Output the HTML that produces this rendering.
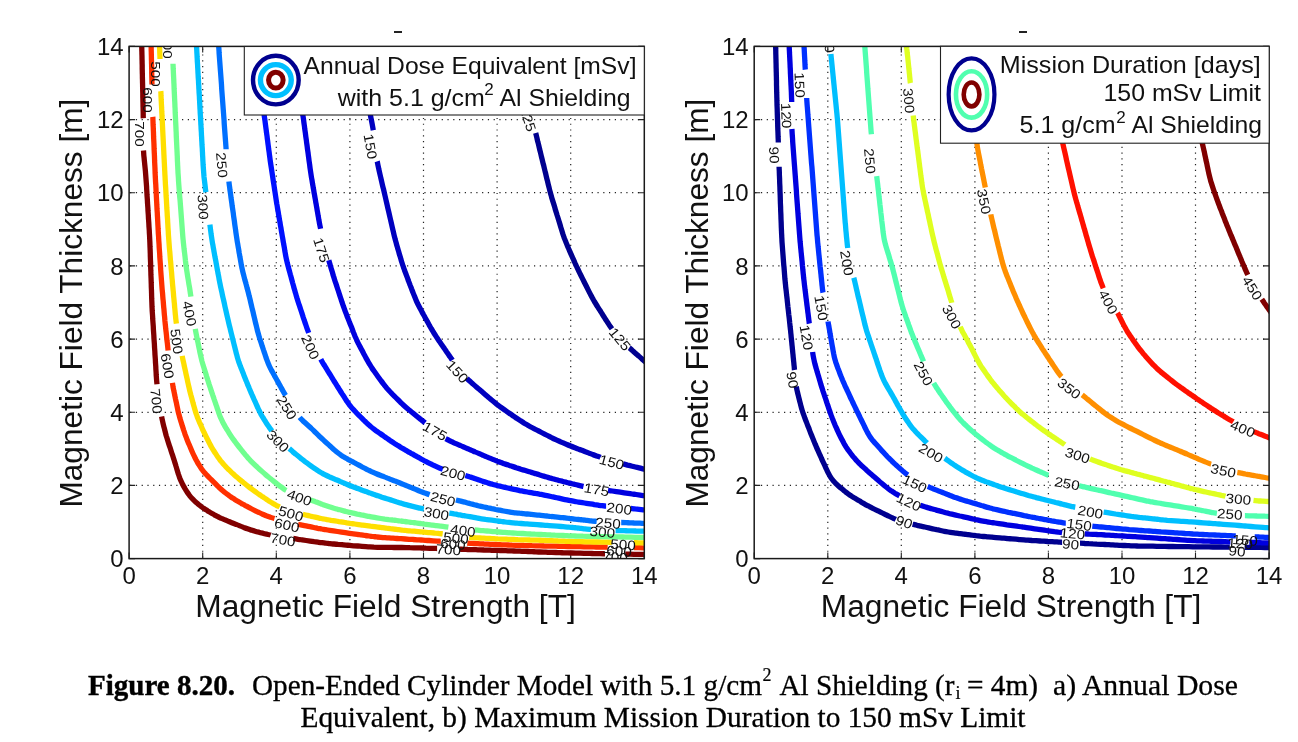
<!DOCTYPE html>
<html><head><meta charset="utf-8"><style>
html,body{margin:0;padding:0;background:#fff;width:1298px;height:742px;overflow:hidden}
svg{position:absolute;left:0;top:0;will-change:transform}
.grid{stroke:#222;stroke-width:1.2;stroke-dasharray:1.2 4.57}
.tick{stroke:#222;stroke-width:1.1;fill:none}
.axbox{fill:none;stroke:#1a1a1a;stroke-width:1.5}
.tl{font-family:"Liberation Sans",sans-serif;font-size:24px;fill:#111}
.al{font-family:"Liberation Sans",sans-serif;font-size:31px;fill:#111}
.cl{font-family:"Liberation Sans",sans-serif;font-size:13.6px;fill:#111;text-anchor:middle}
.lg{font-family:"Liberation Sans",sans-serif;font-size:24px;fill:#111}
.lgs{font-family:"Liberation Sans",sans-serif;font-size:17px;fill:#111}
.cap{font-family:"Liberation Serif",serif;font-size:29px;fill:#000;stroke:#000;stroke-width:0.3}
.capb{font-family:"Liberation Serif",serif;font-size:29px;font-weight:bold;fill:#000;stroke:#000;stroke-width:0.4}
.caps{font-family:"Liberation Serif",serif;font-size:18px;fill:#000;stroke:#000;stroke-width:0.2}
</style></head><body>
<svg width="1298" height="742" viewBox="0 0 1298 742">
<defs>
<clipPath id="cL"><rect x="129" y="46.4" width="515" height="512"/></clipPath>
<clipPath id="cR"><rect x="754" y="46.4" width="515" height="512"/></clipPath>
</defs>

<line x1="202.7" y1="557.6" x2="202.7" y2="47.4" class="grid"/>
<line x1="130.1" y1="485.4" x2="643.3" y2="485.4" class="grid"/>
<line x1="276.3" y1="557.6" x2="276.3" y2="47.4" class="grid"/>
<line x1="130.1" y1="412.3" x2="643.3" y2="412.3" class="grid"/>
<line x1="349.9" y1="557.6" x2="349.9" y2="47.4" class="grid"/>
<line x1="130.1" y1="339.1" x2="643.3" y2="339.1" class="grid"/>
<line x1="423.5" y1="557.6" x2="423.5" y2="47.4" class="grid"/>
<line x1="130.1" y1="265.9" x2="643.3" y2="265.9" class="grid"/>
<line x1="497.1" y1="557.6" x2="497.1" y2="47.4" class="grid"/>
<line x1="130.1" y1="192.7" x2="643.3" y2="192.7" class="grid"/>
<line x1="570.7" y1="557.6" x2="570.7" y2="47.4" class="grid"/>
<line x1="130.1" y1="119.6" x2="643.3" y2="119.6" class="grid"/>
<path d="M129.1 558.6v-6M129.1 46.4v6" class="tick"/>
<path d="M129.1 558.6h6M644.3 558.6h-6" class="tick"/>
<path d="M202.7 558.6v-6M202.7 46.4v6" class="tick"/>
<path d="M129.1 485.4h6M644.3 485.4h-6" class="tick"/>
<path d="M276.3 558.6v-6M276.3 46.4v6" class="tick"/>
<path d="M129.1 412.3h6M644.3 412.3h-6" class="tick"/>
<path d="M349.9 558.6v-6M349.9 46.4v6" class="tick"/>
<path d="M129.1 339.1h6M644.3 339.1h-6" class="tick"/>
<path d="M423.5 558.6v-6M423.5 46.4v6" class="tick"/>
<path d="M129.1 265.9h6M644.3 265.9h-6" class="tick"/>
<path d="M497.1 558.6v-6M497.1 46.4v6" class="tick"/>
<path d="M129.1 192.7h6M644.3 192.7h-6" class="tick"/>
<path d="M570.7 558.6v-6M570.7 46.4v6" class="tick"/>
<path d="M129.1 119.6h6M644.3 119.6h-6" class="tick"/>
<path d="M644.3 558.6v-6M644.3 46.4v6" class="tick"/>
<path d="M129.1 46.4h6M644.3 46.4h-6" class="tick"/>
<g clip-path="url(#cL)" fill="none" stroke-width="5.3" stroke-linejoin="round" stroke-linecap="butt">
<path d="M141.7 44.0 C141.7 44.8 141.8 47.5 141.8 49.0 C141.8 50.5 141.9 51.7 141.9 53.0 C141.9 54.3 142.0 55.7 142.0 57.0 C142.0 58.3 142.0 59.7 142.1 61.0 C142.1 62.3 142.1 63.7 142.2 65.0 C142.2 66.3 142.2 67.7 142.2 69.0 C142.3 70.4 142.3 71.7 142.3 73.0 C142.4 74.4 142.4 75.7 142.4 77.0 C142.4 78.4 142.5 79.7 142.5 81.0 C142.5 82.4 142.6 83.7 142.6 85.0 C142.6 86.4 142.6 87.7 142.7 89.0 C142.7 90.4 142.7 91.7 142.8 93.0 C142.8 94.4 142.8 95.7 142.8 97.0 C142.9 98.4 142.9 99.7 142.9 101.0 C143.0 102.4 143.0 103.7 143.0 105.0 C143.0 106.4 143.1 107.7 143.1 109.0 C143.1 110.4 143.2 111.5 143.2 113.0 C143.2 114.6 143.2 117.3 143.3 118.2" stroke="#800000"/>
<path d="M143.5 150.5 C143.6 151.3 143.7 153.6 143.8 155.1 C143.9 156.5 144.1 157.7 144.2 159.0 C144.3 160.4 144.5 161.7 144.6 163.0 C144.7 164.4 144.9 165.7 145.0 167.0 C145.1 168.3 145.3 169.7 145.4 171.0 C145.5 172.3 145.6 173.7 145.7 175.0 C145.8 176.3 145.9 177.6 146.0 179.0 C146.1 180.3 146.2 181.6 146.3 183.0 C146.4 184.3 146.5 185.6 146.6 187.0 C146.6 188.3 146.7 189.6 146.8 191.0 C146.9 192.3 147.0 193.6 147.0 195.0 C147.1 196.3 147.2 197.6 147.3 199.0 C147.4 200.3 147.5 201.6 147.5 202.9 C147.6 204.3 147.7 205.6 147.8 206.9 C147.9 208.3 148.0 209.6 148.0 210.9 C148.1 212.3 148.2 213.6 148.3 214.9 C148.4 216.3 148.4 217.6 148.5 218.9 C148.6 220.3 148.7 221.6 148.8 222.9 C148.9 224.3 148.9 225.6 149.0 226.9 C149.1 228.3 149.2 229.6 149.3 230.9 C149.3 232.3 149.4 233.6 149.5 234.9 C149.6 236.2 149.6 237.6 149.7 238.9 C149.8 240.2 149.8 241.6 149.9 242.9 C149.9 244.2 150.0 245.6 150.0 246.9 C150.1 248.2 150.1 249.6 150.2 250.9 C150.2 252.2 150.3 253.6 150.3 254.9 C150.3 256.3 150.4 257.6 150.4 258.9 C150.5 260.3 150.5 261.6 150.6 262.9 C150.6 264.3 150.6 265.6 150.7 266.9 C150.7 268.3 150.8 269.6 150.8 270.9 C150.9 272.3 150.9 273.6 150.9 274.9 C151.0 276.3 151.0 277.6 151.1 278.9 C151.1 280.3 151.2 281.6 151.2 282.9 C151.3 284.3 151.3 285.6 151.3 286.9 C151.4 288.3 151.4 289.6 151.5 290.9 C151.5 292.3 151.6 293.6 151.6 294.9 C151.6 296.3 151.7 297.6 151.7 298.9 C151.8 300.3 151.8 301.6 151.9 302.9 C151.9 304.3 152.0 305.6 152.0 306.9 C152.1 308.3 152.2 309.6 152.2 310.9 C152.3 312.3 152.4 313.6 152.5 314.9 C152.6 316.3 152.7 317.6 152.7 318.9 C152.8 320.3 152.9 321.6 153.0 322.9 C153.1 324.3 153.2 325.6 153.3 326.9 C153.3 328.2 153.4 329.6 153.5 330.9 C153.6 332.2 153.7 333.6 153.8 334.9 C153.9 336.2 153.9 337.6 154.0 338.9 C154.1 340.2 154.2 341.6 154.3 342.9 C154.4 344.2 154.5 345.6 154.5 346.9 C154.6 348.2 154.7 349.6 154.8 350.9 C154.9 352.2 154.9 353.6 155.0 354.9 C155.1 356.2 155.2 357.5 155.3 358.9 C155.4 360.2 155.4 361.5 155.5 362.9 C155.6 364.2 155.7 365.5 155.8 366.9 C155.8 368.2 155.9 369.5 156.0 370.9 C156.1 372.2 156.2 373.5 156.2 374.9 C156.3 376.2 156.4 377.3 156.5 378.9 C156.6 380.4 156.9 383.3 157.0 384.2" stroke="#800000"/>
<path d="M161.6 416.5 C161.7 417.1 162.1 419.1 162.4 420.4 C162.7 421.8 163.0 423.0 163.3 424.3 C163.6 425.6 163.9 426.9 164.3 428.2 C164.6 429.5 164.9 430.8 165.3 432.1 C165.6 433.4 165.9 434.7 166.3 436.0 C166.7 437.2 167.1 438.5 167.5 439.8 C167.9 441.1 168.3 442.3 168.7 443.6 C169.1 444.9 169.5 446.1 170.0 447.4 C170.4 448.7 170.8 449.9 171.2 451.2 C171.6 452.5 172.0 453.7 172.5 455.0 C172.9 456.3 173.3 457.6 173.7 458.8 C174.1 460.1 174.5 461.4 174.9 462.6 C175.3 463.9 175.7 465.2 176.1 466.5 C176.5 467.7 176.8 469.0 177.2 470.3 C177.6 471.6 178.0 472.8 178.4 474.1 C178.9 475.4 179.3 476.6 179.7 477.9 C180.2 479.1 180.7 480.4 181.3 481.6 C181.8 482.8 182.4 483.9 183.0 485.1 C183.7 486.3 184.3 487.4 185.0 488.6 C185.7 489.7 186.4 490.9 187.1 492.0 C187.8 493.1 188.6 494.2 189.4 495.3 C190.2 496.3 191.0 497.3 191.9 498.3 C192.8 499.3 193.7 500.2 194.7 501.1 C195.6 502.0 196.6 502.9 197.7 503.7 C198.7 504.6 199.7 505.4 200.8 506.2 C201.8 507.0 202.9 507.8 204.0 508.5 C205.1 509.3 206.3 510.0 207.4 510.7 C208.5 511.4 209.7 512.1 210.8 512.8 C212.0 513.5 213.1 514.1 214.3 514.8 C215.4 515.4 216.6 516.1 217.8 516.7 C219.0 517.3 220.2 517.8 221.4 518.4 C222.6 518.9 223.9 519.4 225.1 519.9 C226.3 520.5 227.6 521.0 228.8 521.5 C230.0 522.0 231.3 522.5 232.5 523.0 C233.7 523.5 235.0 524.0 236.2 524.4 C237.5 524.9 238.7 525.4 239.9 525.9 C241.2 526.4 242.4 526.9 243.6 527.4 C244.9 527.9 246.1 528.4 247.4 528.8 C248.6 529.3 249.9 529.7 251.2 530.1 C252.4 530.5 253.7 530.9 255.0 531.2 C256.3 531.6 257.6 531.9 258.9 532.2 C260.2 532.6 261.5 532.9 262.8 533.2 C264.1 533.6 265.3 533.9 266.6 534.2 C268.0 534.5 270.1 534.9 270.7 535.1" stroke="#800000"/>
<path d="M293.3 538.5 C294.1 538.6 296.8 539.0 298.2 539.3 C299.7 539.5 300.9 539.7 302.2 539.9 C303.5 540.1 304.8 540.3 306.2 540.5 C307.5 540.7 308.8 540.9 310.1 541.1 C311.4 541.3 312.8 541.5 314.1 541.7 C315.4 541.8 316.7 542.0 318.0 542.2 C319.4 542.4 320.7 542.6 322.0 542.7 C323.3 542.9 324.7 543.0 326.0 543.2 C327.3 543.3 328.6 543.5 330.0 543.6 C331.3 543.7 332.6 543.9 334.0 544.0 C335.3 544.1 336.6 544.2 337.9 544.4 C339.3 544.5 340.6 544.6 341.9 544.7 C343.3 544.9 344.6 545.0 345.9 545.1 C347.2 545.2 348.6 545.3 349.9 545.4 C351.2 545.6 352.6 545.7 353.9 545.8 C355.2 545.8 356.6 545.9 357.9 546.0 C359.2 546.1 360.6 546.2 361.9 546.3 C363.2 546.4 364.5 546.5 365.9 546.6 C367.2 546.7 368.5 546.8 369.9 546.8 C371.2 546.9 372.5 547.0 373.9 547.1 C375.2 547.1 376.5 547.2 377.9 547.3 C379.2 547.3 380.5 547.3 381.9 547.4 C383.2 547.4 384.5 547.4 385.9 547.4 C387.2 547.4 388.5 547.4 389.9 547.4 C391.2 547.4 392.5 547.5 393.9 547.5 C395.2 547.5 396.5 547.5 397.9 547.5 C399.2 547.5 400.5 547.5 401.9 547.5 C403.2 547.5 404.6 547.5 405.9 547.6 C407.2 547.6 408.6 547.6 409.9 547.7 C411.2 547.7 412.6 547.7 413.9 547.8 C415.2 547.8 416.6 547.9 417.9 547.9 C419.2 547.9 420.6 548.0 421.9 548.0 C423.2 548.1 424.6 548.1 425.9 548.2 C427.2 548.2 428.6 548.2 429.9 548.3 C431.2 548.3 432.7 548.4 433.9 548.4 C435.1 548.4 436.6 548.5 437.1 548.5" stroke="#800000"/>
<path d="M459.7 549.2 C460.4 549.2 462.5 549.3 463.9 549.3 C465.3 549.4 466.6 549.4 467.9 549.5 C469.2 549.5 470.6 549.6 471.9 549.6 C473.2 549.6 474.6 549.7 475.9 549.7 C477.2 549.8 478.6 549.8 479.9 549.9 C481.3 549.9 482.6 549.9 483.9 550.0 C485.3 550.0 486.6 550.1 487.9 550.1 C489.3 550.2 490.6 550.2 491.9 550.3 C493.3 550.3 494.6 550.3 495.9 550.4 C497.3 550.4 498.6 550.5 499.9 550.5 C501.3 550.6 502.6 550.6 503.9 550.6 C505.3 550.7 506.6 550.7 507.9 550.8 C509.3 550.8 510.6 550.9 511.9 550.9 C513.3 551.0 514.6 551.0 515.9 551.1 C517.3 551.1 518.6 551.2 519.9 551.2 C521.3 551.3 522.6 551.3 523.9 551.4 C525.3 551.4 526.6 551.5 527.9 551.5 C529.3 551.6 530.6 551.6 531.9 551.7 C533.3 551.7 534.6 551.8 535.9 551.8 C537.3 551.9 538.6 552.0 539.9 552.0 C541.3 552.1 542.6 552.1 543.9 552.1 C545.3 552.2 546.6 552.2 547.9 552.3 C549.3 552.3 550.6 552.4 551.9 552.4 C553.3 552.5 554.6 552.5 555.9 552.5 C557.3 552.6 558.6 552.6 559.9 552.7 C561.3 552.7 562.6 552.8 563.9 552.8 C565.3 552.8 566.6 552.9 567.9 552.9 C569.3 553.0 570.6 553.0 571.9 553.0 C573.3 553.1 574.6 553.1 575.9 553.1 C577.3 553.2 578.6 553.2 580.0 553.2 C581.3 553.3 582.6 553.3 584.0 553.3 C585.3 553.3 586.6 553.4 588.0 553.4 C589.3 553.4 590.6 553.5 592.0 553.5 C593.3 553.5 594.6 553.6 596.0 553.6 C597.3 553.6 598.5 553.6 600.0 553.7 C601.5 553.7 604.2 553.8 605.0 553.8" stroke="#800000"/>
<path d="M625.3 554.1 C626.1 554.1 628.5 554.2 630.0 554.2 C631.4 554.2 632.7 554.2 634.0 554.3 C635.3 554.3 636.7 554.3 638.0 554.3 C639.3 554.4 640.7 554.4 642.0 554.4 C643.3 554.4 645.3 554.5 646.0 554.5" stroke="#800000"/>
<path d="M151.1 44.0 C151.1 44.8 151.2 47.5 151.2 49.0 C151.2 50.5 151.3 51.7 151.3 53.0 C151.3 54.3 151.4 55.7 151.4 57.0 C151.4 58.3 151.4 59.7 151.5 61.0 C151.5 62.3 151.5 63.7 151.6 65.0 C151.6 66.3 151.6 67.7 151.7 69.0 C151.7 70.3 151.7 71.7 151.7 73.0 C151.8 74.3 151.8 75.7 151.8 77.0 C151.9 78.3 151.9 79.8 151.9 81.0 C152.0 82.3 152.0 83.9 152.0 84.5" stroke="#ff3000"/>
<path d="M152.8 116.8 C152.9 117.5 152.9 119.7 153.0 121.0 C153.0 122.4 153.1 123.7 153.1 125.0 C153.2 126.4 153.3 127.7 153.3 129.0 C153.4 130.4 153.4 131.7 153.5 133.0 C153.5 134.4 153.6 135.7 153.6 137.0 C153.7 138.3 153.7 139.7 153.8 141.0 C153.9 142.3 153.9 143.7 154.0 145.0 C154.0 146.3 154.1 147.7 154.1 149.0 C154.2 150.3 154.2 151.7 154.3 153.0 C154.4 154.3 154.4 155.7 154.5 157.0 C154.5 158.3 154.6 159.7 154.6 161.0 C154.7 162.3 154.7 163.7 154.8 165.0 C154.9 166.3 154.9 167.7 155.0 169.0 C155.0 170.3 155.1 171.7 155.1 173.0 C155.2 174.3 155.3 175.7 155.3 177.0 C155.4 178.3 155.5 179.7 155.5 181.0 C155.6 182.3 155.7 183.7 155.8 185.0 C155.8 186.3 155.9 187.7 156.0 189.0 C156.0 190.3 156.1 191.7 156.2 193.0 C156.3 194.3 156.3 195.7 156.4 197.0 C156.5 198.3 156.5 199.6 156.6 201.0 C156.7 202.3 156.8 203.6 156.8 205.0 C156.9 206.3 157.0 207.6 157.0 209.0 C157.1 210.3 157.2 211.6 157.3 213.0 C157.3 214.3 157.4 215.6 157.5 217.0 C157.6 218.3 157.6 219.6 157.7 221.0 C157.8 222.3 157.8 223.6 157.9 225.0 C158.0 226.3 158.1 227.6 158.1 229.0 C158.2 230.3 158.3 231.6 158.3 233.0 C158.4 234.3 158.5 235.6 158.6 236.9 C158.7 238.3 158.7 239.6 158.8 240.9 C158.9 242.3 159.0 243.6 159.1 244.9 C159.1 246.3 159.2 247.6 159.3 248.9 C159.4 250.3 159.5 251.6 159.6 252.9 C159.7 254.3 159.8 255.6 159.8 256.9 C159.9 258.3 160.0 259.6 160.1 260.9 C160.2 262.2 160.3 263.6 160.4 264.9 C160.5 266.2 160.6 267.6 160.6 268.9 C160.7 270.2 160.8 271.6 160.9 272.9 C161.0 274.2 161.1 275.6 161.2 276.9 C161.3 278.2 161.4 279.5 161.5 280.9 C161.6 282.2 161.7 283.5 161.8 284.9 C161.9 286.2 162.0 287.5 162.1 288.9 C162.2 290.2 162.4 291.5 162.5 292.8 C162.6 294.2 162.7 295.5 162.8 296.8 C162.9 298.2 163.0 299.5 163.2 300.8 C163.3 302.1 163.4 303.5 163.5 304.8 C163.6 306.1 163.7 307.5 163.9 308.8 C164.0 310.1 164.1 311.5 164.2 312.8 C164.3 314.1 164.4 315.4 164.6 316.8 C164.7 318.1 164.8 319.4 164.9 320.8 C165.1 322.1 165.2 323.4 165.3 324.7 C165.5 326.1 165.6 327.4 165.7 328.7 C165.9 330.0 166.0 331.4 166.2 332.7 C166.3 334.0 166.5 335.3 166.6 336.7 C166.7 338.0 166.9 339.3 167.0 340.7 C167.2 342.0 167.3 343.0 167.5 344.6 C167.7 346.3 168.0 349.5 168.1 350.5" stroke="#ff3000"/>
<path d="M172.4 382.9 C172.5 383.6 172.9 385.9 173.1 387.3 C173.4 388.6 173.7 389.9 173.9 391.2 C174.2 392.5 174.5 393.8 174.7 395.1 C175.0 396.4 175.3 397.7 175.5 399.0 C175.8 400.3 176.1 401.6 176.4 402.9 C176.6 404.3 176.9 405.6 177.2 406.9 C177.5 408.2 177.7 409.5 178.0 410.8 C178.3 412.1 178.6 413.4 179.0 414.7 C179.3 415.9 179.7 417.2 180.0 418.5 C180.4 419.8 180.8 421.1 181.2 422.3 C181.6 423.6 182.0 424.9 182.4 426.2 C182.8 427.4 183.2 428.7 183.6 430.0 C184.0 431.2 184.5 432.5 184.9 433.8 C185.3 435.0 185.8 436.3 186.3 437.5 C186.7 438.8 187.2 440.0 187.7 441.2 C188.2 442.5 188.7 443.7 189.3 444.9 C189.8 446.2 190.3 447.4 190.8 448.6 C191.3 449.8 191.9 451.1 192.4 452.3 C192.9 453.5 193.5 454.7 194.1 455.9 C194.7 457.1 195.3 458.3 195.9 459.5 C196.5 460.6 197.2 461.8 197.8 463.0 C198.5 464.1 199.2 465.3 199.9 466.4 C200.6 467.5 201.3 468.6 202.1 469.7 C202.9 470.7 203.7 471.8 204.6 472.8 C205.5 473.8 206.4 474.7 207.3 475.7 C208.2 476.6 209.2 477.6 210.1 478.5 C211.1 479.5 212.0 480.4 213.0 481.4 C213.9 482.3 214.8 483.2 215.8 484.2 C216.7 485.1 217.7 486.1 218.6 487.0 C219.6 487.9 220.6 488.8 221.6 489.7 C222.6 490.6 223.6 491.4 224.6 492.3 C225.6 493.1 226.7 493.9 227.8 494.7 C228.9 495.5 229.9 496.3 231.0 497.0 C232.1 497.8 233.3 498.5 234.4 499.2 C235.5 499.9 236.6 500.6 237.8 501.3 C238.9 502.0 240.1 502.6 241.3 503.3 C242.4 503.9 243.6 504.6 244.7 505.2 C245.9 505.9 247.1 506.5 248.3 507.2 C249.4 507.8 250.6 508.4 251.8 509.0 C253.0 509.6 254.2 510.2 255.4 510.8 C256.6 511.4 257.8 512.0 259.0 512.5 C260.2 513.1 261.4 513.7 262.6 514.2 C263.8 514.7 265.1 515.3 266.3 515.8 C267.5 516.2 268.7 516.7 270.1 517.1 C271.4 517.6 273.7 518.3 274.5 518.5" stroke="#ff3000"/>
<path d="M298.0 524.2 C298.7 524.4 300.7 524.8 302.1 525.1 C303.4 525.4 304.7 525.7 306.0 525.9 C307.3 526.2 308.6 526.5 309.9 526.7 C311.2 527.0 312.5 527.3 313.8 527.5 C315.1 527.8 316.4 528.0 317.7 528.3 C319.1 528.5 320.4 528.8 321.7 529.0 C323.0 529.2 324.3 529.5 325.6 529.7 C326.9 529.9 328.3 530.1 329.6 530.3 C330.9 530.5 332.2 530.7 333.5 530.9 C334.9 531.1 336.2 531.3 337.5 531.5 C338.8 531.7 340.1 531.9 341.5 532.1 C342.8 532.3 344.1 532.5 345.4 532.7 C346.7 532.9 348.0 533.1 349.4 533.3 C350.7 533.5 352.0 533.7 353.3 533.8 C354.7 534.0 356.0 534.2 357.3 534.4 C358.6 534.6 359.9 534.7 361.3 534.9 C362.6 535.1 363.9 535.3 365.2 535.5 C366.6 535.6 367.9 535.8 369.2 536.0 C370.5 536.2 371.8 536.3 373.2 536.5 C374.5 536.7 375.8 536.8 377.1 537.0 C378.5 537.1 379.8 537.2 381.1 537.3 C382.5 537.5 383.8 537.6 385.1 537.7 C386.4 537.8 387.8 537.8 389.1 537.9 C390.4 538.0 391.8 538.1 393.1 538.2 C394.4 538.3 395.8 538.4 397.1 538.5 C398.4 538.6 399.8 538.6 401.1 538.7 C402.4 538.8 403.7 538.9 405.1 539.0 C406.4 539.1 407.7 539.2 409.1 539.3 C410.4 539.3 411.7 539.4 413.1 539.5 C414.4 539.6 415.7 539.7 417.1 539.8 C418.4 539.9 419.7 539.9 421.1 540.0 C422.4 540.1 423.7 540.2 425.0 540.3 C426.4 540.4 427.7 540.5 429.0 540.5 C430.4 540.6 431.7 540.7 433.0 540.8 C434.4 540.9 435.7 541.0 437.0 541.1 C438.3 541.1 440.2 541.3 440.8 541.3" stroke="#ff3000"/>
<path d="M467.3 543.1 C468.1 543.2 470.5 543.3 472.0 543.4 C473.4 543.5 474.6 543.5 476.0 543.6 C477.3 543.7 478.6 543.7 480.0 543.8 C481.3 543.8 482.6 543.9 484.0 544.0 C485.3 544.0 486.6 544.1 488.0 544.1 C489.3 544.2 490.6 544.3 492.0 544.3 C493.3 544.4 494.6 544.5 496.0 544.5 C497.3 544.6 498.6 544.6 500.0 544.7 C501.3 544.8 502.6 544.8 504.0 544.9 C505.3 544.9 506.6 545.0 508.0 545.0 C509.3 545.1 510.6 545.1 512.0 545.2 C513.3 545.2 514.6 545.2 516.0 545.3 C517.3 545.3 518.6 545.3 520.0 545.4 C521.3 545.4 522.6 545.4 524.0 545.5 C525.3 545.5 526.6 545.5 528.0 545.6 C529.3 545.6 530.6 545.6 532.0 545.7 C533.3 545.7 534.6 545.7 536.0 545.8 C537.3 545.8 538.6 545.8 540.0 545.9 C541.3 545.9 542.6 545.9 544.0 546.0 C545.3 546.0 546.6 546.0 548.0 546.1 C549.3 546.1 550.6 546.1 552.0 546.1 C553.3 546.2 554.6 546.2 556.0 546.2 C557.3 546.2 558.6 546.3 560.0 546.3 C561.3 546.3 562.6 546.3 564.0 546.4 C565.3 546.4 566.6 546.4 568.0 546.5 C569.3 546.5 570.6 546.5 572.0 546.5 C573.3 546.6 574.6 546.6 576.0 546.6 C577.3 546.6 578.6 546.7 580.0 546.7 C581.3 546.7 582.6 546.7 584.0 546.8 C585.3 546.8 586.6 546.8 588.0 546.8 C589.3 546.9 590.6 546.9 592.0 546.9 C593.3 546.9 594.6 547.0 596.0 547.0 C597.3 547.0 598.6 547.0 600.0 547.1 C601.3 547.1 602.7 547.1 604.0 547.1 C605.3 547.2 607.1 547.2 607.7 547.2" stroke="#ff3000"/>
<path d="M634.0 547.6 C634.8 547.6 637.5 547.7 639.0 547.7 C640.5 547.8 641.8 547.8 643.0 547.8 C644.2 547.9 645.5 547.9 646.0 547.9" stroke="#ff3000"/>
<path d="M159.5 44.0 C159.5 44.8 159.6 47.5 159.7 49.0 C159.7 50.5 159.7 51.4 159.8 53.0 C159.9 54.7 160.0 57.9 160.0 58.9" stroke="#ffdf00"/>
<path d="M160.8 91.2 C160.9 92.0 161.0 94.5 161.0 96.0 C161.1 97.5 161.2 98.7 161.2 100.0 C161.3 101.3 161.4 102.7 161.4 104.0 C161.5 105.3 161.6 106.7 161.6 108.0 C161.7 109.3 161.8 110.7 161.8 112.0 C161.9 113.3 162.0 114.7 162.0 116.0 C162.1 117.3 162.1 118.7 162.2 120.0 C162.3 121.3 162.3 122.7 162.4 124.0 C162.5 125.3 162.5 126.7 162.6 128.0 C162.7 129.3 162.7 130.7 162.8 132.0 C162.9 133.3 162.9 134.7 163.0 136.0 C163.1 137.3 163.1 138.7 163.2 140.0 C163.3 141.3 163.3 142.7 163.4 144.0 C163.5 145.3 163.5 146.7 163.6 148.0 C163.7 149.3 163.7 150.7 163.8 152.0 C163.8 153.3 163.9 154.7 164.0 156.0 C164.0 157.3 164.1 158.7 164.2 160.0 C164.2 161.3 164.3 162.7 164.4 164.0 C164.4 165.3 164.5 166.7 164.6 168.0 C164.6 169.3 164.7 170.7 164.8 172.0 C164.8 173.3 164.9 174.7 165.0 176.0 C165.1 177.3 165.1 178.6 165.2 180.0 C165.3 181.3 165.4 182.6 165.4 184.0 C165.5 185.3 165.6 186.6 165.7 188.0 C165.8 189.3 165.8 190.6 165.9 192.0 C166.0 193.3 166.1 194.6 166.1 196.0 C166.2 197.3 166.3 198.6 166.4 200.0 C166.5 201.3 166.5 202.6 166.6 204.0 C166.7 205.3 166.8 206.6 166.8 208.0 C166.9 209.3 167.0 210.6 167.1 212.0 C167.2 213.3 167.2 214.6 167.3 215.9 C167.4 217.3 167.5 218.6 167.6 219.9 C167.6 221.3 167.7 222.6 167.8 223.9 C167.9 225.3 167.9 226.6 168.0 227.9 C168.1 229.3 168.2 230.6 168.3 231.9 C168.3 233.3 168.4 234.6 168.5 235.9 C168.6 237.3 168.7 238.6 168.8 239.9 C168.9 241.3 169.0 242.6 169.1 243.9 C169.2 245.2 169.3 246.6 169.4 247.9 C169.5 249.2 169.6 250.6 169.8 251.9 C169.9 253.2 170.0 254.6 170.1 255.9 C170.2 257.2 170.3 258.5 170.4 259.9 C170.6 261.2 170.7 262.5 170.8 263.9 C170.9 265.2 171.0 266.5 171.1 267.8 C171.2 269.2 171.4 270.5 171.5 271.8 C171.6 273.2 171.7 274.5 171.8 275.8 C171.9 277.2 172.0 278.5 172.2 279.8 C172.3 281.1 172.4 282.5 172.5 283.8 C172.6 285.1 172.8 286.5 172.9 287.8 C173.0 289.1 173.1 290.4 173.3 291.8 C173.4 293.1 173.5 294.4 173.6 295.8 C173.7 297.1 173.9 298.4 174.0 299.7 C174.1 301.1 174.2 302.4 174.4 303.7 C174.5 305.1 174.6 306.4 174.7 307.7 C174.9 309.0 175.0 310.4 175.1 311.7 C175.2 313.0 175.3 314.4 175.5 315.7 C175.6 317.0 175.7 318.4 175.9 319.7 C176.0 321.0 176.3 322.9 176.4 323.6" stroke="#ffdf00"/>
<path d="M182.2 355.9 C182.3 356.6 182.7 358.7 183.0 360.1 C183.3 361.4 183.6 362.7 183.9 364.0 C184.1 365.3 184.4 366.6 184.7 367.9 C185.0 369.2 185.3 370.5 185.6 371.8 C185.8 373.1 186.1 374.4 186.4 375.7 C186.7 377.0 187.0 378.3 187.3 379.6 C187.5 380.9 187.8 382.2 188.1 383.5 C188.4 384.8 188.7 386.1 189.0 387.4 C189.3 388.7 189.6 390.0 189.9 391.3 C190.2 392.6 190.6 393.9 190.9 395.2 C191.3 396.5 191.6 397.8 192.0 399.1 C192.3 400.4 192.7 401.6 193.0 402.9 C193.4 404.2 193.7 405.5 194.1 406.8 C194.5 408.1 194.8 409.4 195.2 410.6 C195.6 411.9 196.0 413.2 196.4 414.4 C196.9 415.7 197.3 416.9 197.8 418.2 C198.3 419.4 198.8 420.6 199.3 421.9 C199.8 423.1 200.4 424.3 200.9 425.5 C201.5 426.8 202.0 428.0 202.5 429.2 C203.1 430.4 203.7 431.6 204.2 432.8 C204.8 434.0 205.4 435.2 206.0 436.4 C206.6 437.6 207.2 438.8 207.8 440.0 C208.4 441.2 209.0 442.4 209.6 443.6 C210.2 444.7 210.9 445.9 211.5 447.1 C212.2 448.2 212.9 449.4 213.6 450.5 C214.3 451.6 215.0 452.7 215.8 453.9 C216.5 455.0 217.2 456.1 218.0 457.2 C218.8 458.3 219.5 459.3 220.3 460.4 C221.2 461.4 222.0 462.5 222.9 463.5 C223.7 464.5 224.7 465.4 225.6 466.4 C226.5 467.4 227.4 468.3 228.4 469.3 C229.3 470.2 230.3 471.1 231.2 472.1 C232.2 473.0 233.2 473.9 234.2 474.8 C235.1 475.7 236.1 476.6 237.2 477.4 C238.2 478.3 239.2 479.1 240.2 480.0 C241.3 480.8 242.3 481.7 243.3 482.5 C244.4 483.4 245.4 484.2 246.4 485.0 C247.5 485.9 248.5 486.7 249.6 487.5 C250.7 488.3 251.7 489.1 252.8 489.9 C253.9 490.7 255.0 491.5 256.1 492.2 C257.1 493.0 258.2 493.8 259.3 494.5 C260.4 495.3 261.5 496.0 262.6 496.8 C263.7 497.5 264.8 498.3 266.0 499.0 C267.1 499.7 268.2 500.5 269.3 501.2 C270.5 501.9 271.6 502.6 272.7 503.3 C273.9 503.9 275.0 504.6 276.2 505.3 C277.4 505.9 279.1 506.7 279.7 507.0" stroke="#ffdf00"/>
<path d="M302.8 514.3 C303.6 514.5 306.0 515.1 307.4 515.4 C308.9 515.8 310.0 516.0 311.3 516.3 C312.6 516.6 313.9 516.9 315.2 517.2 C316.5 517.5 317.8 517.8 319.2 518.1 C320.5 518.4 321.8 518.6 323.1 518.9 C324.4 519.1 325.7 519.3 327.0 519.6 C328.3 519.8 329.6 520.0 331.0 520.3 C332.3 520.5 333.6 520.7 334.9 520.9 C336.2 521.1 337.5 521.3 338.9 521.6 C340.2 521.8 341.5 522.0 342.8 522.2 C344.1 522.4 345.4 522.6 346.8 522.9 C348.1 523.1 349.4 523.3 350.7 523.5 C352.0 523.7 353.4 523.8 354.7 524.0 C356.0 524.2 357.3 524.4 358.6 524.6 C360.0 524.8 361.3 524.9 362.6 525.1 C363.9 525.3 365.3 525.5 366.6 525.6 C367.9 525.8 369.2 526.0 370.5 526.2 C371.9 526.3 373.2 526.5 374.5 526.7 C375.8 526.9 377.2 527.0 378.5 527.2 C379.8 527.4 381.1 527.5 382.5 527.7 C383.8 527.9 385.1 528.0 386.4 528.2 C387.8 528.3 389.1 528.5 390.4 528.7 C391.7 528.8 393.1 529.0 394.4 529.1 C395.7 529.3 397.0 529.4 398.4 529.6 C399.7 529.8 401.0 529.9 402.3 530.1 C403.7 530.2 405.0 530.3 406.3 530.5 C407.6 530.6 409.0 530.7 410.3 530.9 C411.6 531.0 413.0 531.1 414.3 531.2 C415.6 531.4 416.9 531.5 418.3 531.6 C419.6 531.7 420.9 531.8 422.3 532.0 C423.6 532.1 424.9 532.2 426.2 532.3 C427.6 532.4 428.9 532.6 430.2 532.7 C431.6 532.8 432.9 532.9 434.2 533.0 C435.5 533.2 436.8 533.3 438.2 533.4 C439.6 533.6 441.9 533.8 442.7 533.9" stroke="#ffdf00"/>
<path d="M469.2 537.3 C470.0 537.4 472.5 537.6 474.0 537.7 C475.4 537.8 476.6 537.8 478.0 537.9 C479.3 538.0 480.6 538.0 482.0 538.1 C483.3 538.2 484.6 538.2 486.0 538.3 C487.3 538.4 488.6 538.4 489.9 538.5 C491.3 538.6 492.6 538.6 493.9 538.7 C495.3 538.8 496.6 538.8 497.9 538.9 C499.3 538.9 500.6 539.0 501.9 539.1 C503.3 539.1 504.6 539.2 505.9 539.2 C507.3 539.3 508.6 539.4 509.9 539.4 C511.3 539.5 512.6 539.5 513.9 539.5 C515.3 539.6 516.6 539.6 517.9 539.7 C519.3 539.7 520.6 539.7 521.9 539.8 C523.3 539.8 524.6 539.8 525.9 539.9 C527.3 539.9 528.6 539.9 530.0 540.0 C531.3 540.0 532.6 540.1 534.0 540.1 C535.3 540.1 536.6 540.2 538.0 540.2 C539.3 540.2 540.6 540.3 542.0 540.3 C543.3 540.4 544.6 540.4 546.0 540.5 C547.3 540.5 548.6 540.6 550.0 540.6 C551.3 540.7 552.6 540.7 554.0 540.8 C555.3 540.8 556.6 540.9 558.0 541.0 C559.3 541.0 560.6 541.1 562.0 541.1 C563.3 541.2 564.6 541.2 566.0 541.3 C567.3 541.3 568.6 541.4 570.0 541.4 C571.3 541.5 572.6 541.5 574.0 541.6 C575.3 541.6 576.6 541.6 578.0 541.6 C579.3 541.7 580.6 541.7 582.0 541.7 C583.3 541.8 584.6 541.8 586.0 541.8 C587.3 541.8 588.6 541.9 590.0 541.9 C591.3 541.9 592.6 541.9 594.0 542.0 C595.3 542.0 596.6 542.0 598.0 542.0 C599.3 542.1 600.6 542.1 602.0 542.1 C603.3 542.1 604.3 542.2 606.0 542.2 C607.6 542.2 610.8 542.3 611.8 542.3" stroke="#ffdf00"/>
<path d="M634.0 542.7 C634.8 542.7 637.5 542.8 639.0 542.8 C640.5 542.9 641.8 542.9 643.0 542.9 C644.2 543.0 645.5 543.0 646.0 543.0" stroke="#ffdf00"/>
<path d="M173.0 63.7 C173.0 64.5 173.2 67.2 173.2 68.7 C173.3 70.2 173.4 71.4 173.4 72.7 C173.5 74.0 173.5 75.4 173.6 76.7 C173.7 78.0 173.7 79.4 173.8 80.7 C173.8 82.0 173.9 83.4 174.0 84.7 C174.0 86.0 174.1 87.4 174.1 88.7 C174.2 90.0 174.3 91.3 174.3 92.7 C174.4 94.0 174.5 95.3 174.5 96.7 C174.6 98.0 174.6 99.3 174.7 100.7 C174.8 102.0 174.8 103.3 174.9 104.7 C174.9 106.0 175.0 107.3 175.1 108.7 C175.1 110.0 175.2 111.3 175.2 112.7 C175.3 114.0 175.4 115.3 175.4 116.7 C175.5 118.0 175.6 119.3 175.6 120.7 C175.7 122.0 175.7 123.3 175.8 124.7 C175.9 126.0 175.9 127.3 176.0 128.7 C176.0 130.0 176.1 131.3 176.2 132.7 C176.2 134.0 176.3 135.3 176.3 136.7 C176.4 138.0 176.5 139.3 176.5 140.7 C176.6 142.0 176.7 143.3 176.7 144.6 C176.8 146.0 176.8 147.3 176.9 148.6 C177.0 150.0 177.0 151.3 177.1 152.6 C177.1 154.0 177.2 155.3 177.3 156.6 C177.3 158.0 177.4 159.3 177.4 160.6 C177.5 162.0 177.6 163.3 177.6 164.6 C177.7 166.0 177.8 167.3 177.8 168.6 C177.9 170.0 178.0 171.3 178.0 172.6 C178.1 174.0 178.2 175.3 178.3 176.6 C178.4 178.0 178.5 179.3 178.5 180.6 C178.6 181.9 178.7 183.3 178.8 184.6 C178.9 185.9 179.0 187.3 179.1 188.6 C179.2 189.9 179.3 191.3 179.4 192.6 C179.5 193.9 179.6 195.2 179.7 196.6 C179.8 197.9 180.0 199.2 180.1 200.6 C180.2 201.9 180.3 203.2 180.4 204.6 C180.5 205.9 180.6 207.2 180.7 208.5 C180.8 209.9 180.9 211.2 181.0 212.5 C181.1 213.9 181.2 215.2 181.3 216.5 C181.4 217.9 181.5 219.2 181.6 220.5 C181.7 221.8 181.8 223.2 181.9 224.5 C182.0 225.8 182.1 227.2 182.2 228.5 C182.3 229.8 182.4 231.2 182.5 232.5 C182.6 233.8 182.7 235.1 182.8 236.5 C182.9 237.8 183.0 239.1 183.2 240.5 C183.3 241.8 183.4 243.1 183.6 244.4 C183.7 245.8 183.9 247.1 184.0 248.4 C184.2 249.7 184.3 251.1 184.5 252.4 C184.7 253.7 184.8 255.0 185.0 256.4 C185.1 257.7 185.3 259.0 185.4 260.3 C185.6 261.7 185.7 263.0 185.9 264.3 C186.1 265.6 186.2 267.0 186.4 268.3 C186.6 269.6 186.8 270.9 187.0 272.2 C187.2 273.6 187.4 274.9 187.6 276.2 C187.8 277.5 188.0 278.8 188.3 280.1 C188.5 281.5 188.7 282.8 188.9 284.1 C189.1 285.4 189.4 286.7 189.6 288.0 C189.8 289.4 190.0 290.6 190.2 292.0 C190.4 293.4 190.8 295.8 190.9 296.6" stroke="#70ff8f"/>
<path d="M195.3 328.9 C195.4 329.7 195.8 332.1 196.1 333.6 C196.4 335.0 196.6 336.2 196.9 337.5 C197.1 338.8 197.4 340.1 197.7 341.4 C198.0 342.7 198.2 344.0 198.5 345.3 C198.8 346.6 199.0 347.9 199.3 349.3 C199.6 350.6 199.8 351.9 200.1 353.2 C200.4 354.5 200.7 355.8 201.0 357.1 C201.3 358.4 201.6 359.7 201.9 361.0 C202.3 362.2 202.6 363.5 203.0 364.8 C203.4 366.1 203.8 367.4 204.2 368.6 C204.6 369.9 205.0 371.2 205.4 372.4 C205.8 373.7 206.2 375.0 206.6 376.3 C207.0 377.5 207.4 378.8 207.8 380.1 C208.2 381.3 208.6 382.6 209.0 383.9 C209.5 385.1 209.9 386.4 210.3 387.7 C210.7 389.0 211.1 390.2 211.5 391.5 C212.0 392.8 212.4 394.0 212.8 395.3 C213.2 396.5 213.7 397.8 214.1 399.1 C214.5 400.3 214.9 401.6 215.4 402.9 C215.8 404.1 216.2 405.4 216.7 406.6 C217.1 407.9 217.5 409.2 218.0 410.4 C218.4 411.7 218.8 413.0 219.3 414.2 C219.7 415.5 220.2 416.7 220.7 417.9 C221.3 419.1 221.8 420.3 222.4 421.5 C223.0 422.7 223.6 423.9 224.3 425.0 C224.9 426.2 225.6 427.3 226.3 428.5 C227.0 429.6 227.7 430.8 228.4 431.9 C229.1 433.0 229.8 434.2 230.5 435.3 C231.3 436.4 232.0 437.5 232.8 438.6 C233.6 439.7 234.4 440.7 235.1 441.8 C235.9 442.9 236.7 443.9 237.5 445.0 C238.4 446.1 239.2 447.1 240.0 448.2 C240.8 449.2 241.6 450.3 242.5 451.3 C243.3 452.3 244.2 453.4 245.0 454.4 C245.9 455.4 246.7 456.5 247.6 457.5 C248.5 458.5 249.4 459.4 250.3 460.4 C251.2 461.4 252.1 462.3 253.1 463.2 C254.0 464.2 255.0 465.1 256.0 466.0 C257.0 466.9 257.9 467.8 258.9 468.7 C259.9 469.6 260.9 470.5 261.9 471.4 C262.9 472.3 263.9 473.2 264.9 474.0 C265.9 474.9 266.9 475.8 268.0 476.6 C269.0 477.5 270.0 478.3 271.1 479.1 C272.1 480.0 273.2 480.8 274.2 481.6 C275.2 482.4 276.3 483.3 277.3 484.1 C278.4 484.9 279.4 485.8 280.5 486.6 C281.6 487.3 282.8 488.2 283.7 488.9 C284.7 489.5 285.9 490.2 286.3 490.4" stroke="#70ff8f"/>
<path d="M310.5 500.0 C311.3 500.3 313.7 501.1 315.1 501.6 C316.4 502.1 317.6 502.6 318.8 503.0 C320.1 503.5 321.3 503.9 322.6 504.4 C323.8 504.8 325.1 505.3 326.4 505.7 C327.6 506.1 328.9 506.6 330.2 507.0 C331.4 507.4 332.7 507.8 334.0 508.2 C335.2 508.5 336.5 508.9 337.8 509.3 C339.1 509.6 340.4 510.0 341.7 510.3 C343.0 510.7 344.2 511.0 345.5 511.4 C346.8 511.7 348.1 512.0 349.4 512.3 C350.7 512.7 352.0 512.9 353.3 513.2 C354.6 513.5 355.9 513.8 357.2 514.1 C358.5 514.3 359.8 514.6 361.1 514.9 C362.5 515.1 363.8 515.4 365.1 515.7 C366.4 515.9 367.7 516.2 369.0 516.4 C370.3 516.7 371.6 517.0 372.9 517.2 C374.2 517.5 375.5 517.7 376.9 517.9 C378.2 518.1 379.5 518.3 380.8 518.5 C382.1 518.7 383.4 518.9 384.8 519.1 C386.1 519.2 387.4 519.4 388.7 519.6 C390.1 519.7 391.4 519.9 392.7 520.0 C394.0 520.2 395.4 520.3 396.7 520.5 C398.0 520.7 399.3 520.8 400.7 521.0 C402.0 521.1 403.3 521.3 404.6 521.5 C406.0 521.6 407.3 521.8 408.6 522.0 C409.9 522.2 411.2 522.3 412.6 522.5 C413.9 522.7 415.2 522.8 416.5 523.0 C417.9 523.2 419.2 523.4 420.5 523.5 C421.8 523.7 423.1 523.9 424.5 524.1 C425.8 524.2 427.1 524.4 428.4 524.6 C429.8 524.8 431.1 524.9 432.4 525.1 C433.7 525.3 435.1 525.4 436.4 525.6 C437.7 525.8 439.0 526.0 440.3 526.1 C441.7 526.3 443.0 526.5 444.3 526.6 C445.7 526.8 447.7 527.1 448.4 527.2" stroke="#70ff8f"/>
<path d="M474.8 530.0 C475.5 530.0 477.7 530.2 479.1 530.3 C480.5 530.5 481.8 530.6 483.1 530.7 C484.4 530.8 485.8 530.9 487.1 531.0 C488.4 531.1 489.8 531.2 491.1 531.3 C492.4 531.5 493.7 531.6 495.1 531.7 C496.4 531.8 497.7 531.9 499.1 532.0 C500.4 532.1 501.7 532.2 503.1 532.3 C504.4 532.4 505.7 532.5 507.0 532.6 C508.4 532.7 509.7 532.8 511.0 532.9 C512.4 533.0 513.7 533.0 515.0 533.1 C516.4 533.2 517.7 533.3 519.0 533.3 C520.4 533.4 521.7 533.5 523.0 533.5 C524.4 533.6 525.7 533.7 527.0 533.8 C528.4 533.8 529.7 533.9 531.0 534.0 C532.3 534.0 533.7 534.1 535.0 534.2 C536.3 534.2 537.7 534.3 539.0 534.4 C540.3 534.5 541.7 534.5 543.0 534.6 C544.3 534.7 545.7 534.7 547.0 534.8 C548.3 534.9 549.7 534.9 551.0 535.0 C552.3 535.0 553.7 535.1 555.0 535.2 C556.3 535.2 557.7 535.3 559.0 535.4 C560.3 535.4 561.7 535.5 563.0 535.5 C564.3 535.6 565.7 535.7 567.0 535.7 C568.3 535.8 569.7 535.8 571.0 535.9 C572.3 535.9 573.7 536.0 575.0 536.0 C576.3 536.0 577.7 536.1 579.0 536.1 C580.3 536.1 581.7 536.1 583.0 536.2 C584.3 536.2 585.7 536.2 587.0 536.3 C588.3 536.3 589.7 536.3 591.0 536.3 C592.3 536.4 593.7 536.4 595.0 536.4 C596.3 536.5 597.7 536.5 599.0 536.5 C600.3 536.5 601.7 536.6 603.0 536.6 C604.3 536.6 605.7 536.6 607.0 536.7 C608.3 536.7 609.7 536.7 611.0 536.8 C612.3 536.8 613.7 536.8 615.0 536.8 C616.3 536.9 617.7 536.9 619.0 536.9 C620.3 537.0 621.7 537.0 623.0 537.0 C624.3 537.0 625.7 537.1 627.0 537.1 C628.3 537.1 629.7 537.2 631.0 537.2 C632.3 537.2 633.7 537.2 635.0 537.3 C636.3 537.3 637.7 537.3 639.0 537.4 C640.3 537.4 641.8 537.4 643.0 537.4 C644.2 537.5 645.5 537.5 646.0 537.5" stroke="#70ff8f"/>
<path d="M196.4 44.0 C196.4 44.8 196.6 47.5 196.7 49.0 C196.8 50.5 196.8 51.7 196.9 53.0 C197.0 54.3 197.1 55.7 197.1 57.0 C197.2 58.3 197.3 59.6 197.3 61.0 C197.4 62.3 197.5 63.6 197.6 65.0 C197.6 66.3 197.7 67.6 197.8 69.0 C197.9 70.3 197.9 71.6 198.0 73.0 C198.1 74.3 198.2 75.6 198.2 77.0 C198.3 78.3 198.4 79.6 198.5 81.0 C198.5 82.3 198.6 83.6 198.7 84.9 C198.8 86.3 198.8 87.6 198.9 88.9 C199.0 90.3 199.1 91.6 199.1 92.9 C199.2 94.3 199.3 95.6 199.4 96.9 C199.4 98.3 199.5 99.6 199.6 100.9 C199.7 102.3 199.7 103.6 199.8 104.9 C199.9 106.3 199.9 107.6 200.0 108.9 C200.1 110.2 200.2 111.6 200.2 112.9 C200.3 114.2 200.4 115.6 200.5 116.9 C200.5 118.2 200.6 119.6 200.7 120.9 C200.8 122.2 200.8 123.6 200.9 124.9 C201.0 126.2 201.1 127.6 201.1 128.9 C201.2 130.2 201.3 131.6 201.4 132.9 C201.4 134.2 201.5 135.5 201.6 136.9 C201.7 138.2 201.7 139.5 201.8 140.9 C201.9 142.2 202.0 143.5 202.0 144.9 C202.1 146.2 202.2 147.5 202.3 148.9 C202.3 150.2 202.4 151.5 202.5 152.9 C202.5 154.2 202.6 155.5 202.7 156.9 C202.8 158.2 202.8 159.5 202.9 160.8 C203.0 162.2 203.1 163.5 203.1 164.8 C203.2 166.2 203.3 167.5 203.4 168.8 C203.5 170.2 203.6 171.5 203.7 172.8 C203.8 174.2 203.9 175.5 204.0 176.8 C204.2 178.1 204.3 179.5 204.5 180.8 C204.6 182.1 204.8 183.4 205.0 184.8 C205.1 186.1 205.3 187.5 205.4 188.7 C205.6 190.0 205.8 191.7 205.9 192.3" stroke="#00bfff"/>
<path d="M209.9 224.6 C210.0 225.4 210.3 228.0 210.5 229.4 C210.7 230.9 210.9 232.1 211.0 233.4 C211.2 234.7 211.4 236.0 211.6 237.4 C211.8 238.7 212.0 240.0 212.2 241.3 C212.4 242.6 212.6 243.9 212.9 245.2 C213.1 246.6 213.3 247.9 213.6 249.2 C213.8 250.5 214.1 251.8 214.3 253.1 C214.5 254.4 214.8 255.7 215.0 257.1 C215.3 258.4 215.5 259.7 215.8 261.0 C216.0 262.3 216.2 263.6 216.5 264.9 C216.7 266.2 217.0 267.5 217.2 268.9 C217.4 270.2 217.7 271.5 217.9 272.8 C218.2 274.1 218.4 275.4 218.7 276.7 C218.9 278.0 219.1 279.4 219.4 280.7 C219.6 282.0 219.9 283.3 220.2 284.6 C220.4 285.9 220.7 287.2 221.0 288.5 C221.3 289.8 221.6 291.1 221.9 292.4 C222.1 293.7 222.4 295.0 222.7 296.3 C223.0 297.6 223.3 298.9 223.6 300.2 C223.9 301.5 224.2 302.8 224.5 304.1 C224.7 305.4 225.0 306.7 225.3 308.0 C225.6 309.3 225.9 310.6 226.2 311.9 C226.5 313.2 226.8 314.5 227.1 315.8 C227.4 317.1 227.7 318.4 228.0 319.7 C228.3 321.0 228.6 322.3 228.9 323.6 C229.2 324.9 229.5 326.2 229.9 327.5 C230.2 328.8 230.5 330.1 230.8 331.4 C231.1 332.7 231.5 334.0 231.8 335.3 C232.1 336.6 232.4 337.9 232.8 339.2 C233.1 340.5 233.4 341.7 233.7 343.0 C234.0 344.3 234.4 345.6 234.7 346.9 C235.0 348.2 235.3 349.5 235.7 350.8 C236.0 352.1 236.3 353.4 236.7 354.7 C237.0 356.0 237.3 357.3 237.7 358.5 C238.1 359.8 238.5 361.1 238.9 362.3 C239.4 363.6 239.8 364.8 240.3 366.1 C240.8 367.3 241.3 368.6 241.8 369.8 C242.3 371.0 242.8 372.3 243.3 373.5 C243.7 374.8 244.2 376.0 244.7 377.2 C245.2 378.5 245.7 379.7 246.2 380.9 C246.7 382.2 247.2 383.4 247.7 384.7 C248.3 385.9 248.8 387.1 249.3 388.4 C249.8 389.6 250.3 390.8 250.8 392.0 C251.3 393.3 251.9 394.5 252.4 395.7 C253.0 396.9 253.5 398.1 254.0 399.4 C254.6 400.6 255.1 401.8 255.7 403.0 C256.2 404.2 256.8 405.5 257.3 406.7 C257.9 407.9 258.4 409.1 259.0 410.3 C259.6 411.5 260.2 412.7 260.8 413.9 C261.4 415.0 262.1 416.2 262.8 417.3 C263.4 418.5 264.1 419.6 264.9 420.7 C265.6 421.9 266.3 423.0 267.0 424.1 C267.8 425.2 268.4 426.2 269.3 427.4 C270.1 428.5 271.5 430.3 271.9 430.9" stroke="#00bfff"/>
<path d="M289.2 448.6 C289.8 449.1 291.7 450.8 292.8 451.7 C293.9 452.7 294.9 453.4 295.9 454.3 C296.9 455.1 298.0 456.0 299.0 456.8 C300.0 457.7 301.1 458.5 302.1 459.3 C303.2 460.2 304.2 461.0 305.3 461.8 C306.4 462.6 307.4 463.3 308.5 464.1 C309.6 464.9 310.7 465.7 311.8 466.5 C312.9 467.2 313.9 468.0 315.0 468.7 C316.1 469.5 317.2 470.3 318.4 471.0 C319.5 471.7 320.6 472.4 321.8 473.0 C322.9 473.7 324.1 474.3 325.3 474.9 C326.5 475.5 327.7 476.0 328.9 476.6 C330.1 477.1 331.4 477.6 332.6 478.2 C333.8 478.7 335.0 479.2 336.2 479.8 C337.5 480.3 338.7 480.8 339.9 481.4 C341.1 481.9 342.4 482.4 343.6 482.9 C344.8 483.5 346.0 484.0 347.3 484.5 C348.5 485.0 349.7 485.5 351.0 486.0 C352.2 486.5 353.5 487.0 354.7 487.4 C356.0 487.9 357.2 488.4 358.5 488.8 C359.7 489.3 361.0 489.7 362.2 490.2 C363.5 490.6 364.7 491.1 366.0 491.6 C367.2 492.0 368.5 492.5 369.7 492.9 C371.0 493.4 372.3 493.8 373.5 494.3 C374.8 494.7 376.0 495.2 377.3 495.6 C378.5 496.0 379.8 496.5 381.1 496.9 C382.3 497.3 383.6 497.7 384.9 498.1 C386.2 498.5 387.4 498.9 388.7 499.3 C390.0 499.7 391.2 500.1 392.5 500.5 C393.8 500.9 395.1 501.3 396.3 501.7 C397.6 502.1 398.9 502.5 400.1 502.9 C401.4 503.3 402.7 503.7 404.0 504.1 C405.3 504.4 406.5 504.8 407.8 505.1 C409.1 505.5 410.4 505.8 411.7 506.2 C413.0 506.5 414.3 506.8 415.6 507.1 C416.9 507.4 418.1 507.7 419.5 508.1 C420.9 508.4 423.2 508.9 423.9 509.0" stroke="#00bfff"/>
<path d="M449.3 513.1 C450.1 513.2 452.5 513.6 454.0 513.9 C455.4 514.1 456.6 514.3 457.9 514.6 C459.2 514.8 460.5 515.1 461.8 515.3 C463.2 515.5 464.5 515.8 465.8 516.0 C467.1 516.3 468.4 516.5 469.7 516.7 C471.0 517.0 472.3 517.2 473.7 517.4 C475.0 517.7 476.3 517.9 477.6 518.1 C478.9 518.4 480.2 518.6 481.5 518.8 C482.9 519.0 484.2 519.2 485.5 519.4 C486.8 519.5 488.1 519.7 489.5 519.9 C490.8 520.1 492.1 520.3 493.4 520.4 C494.8 520.6 496.1 520.8 497.4 521.0 C498.7 521.1 500.0 521.3 501.4 521.5 C502.7 521.7 504.0 521.8 505.3 522.0 C506.7 522.2 508.0 522.3 509.3 522.4 C510.6 522.6 512.0 522.7 513.3 522.8 C514.6 522.9 515.9 523.0 517.3 523.2 C518.6 523.3 519.9 523.4 521.3 523.5 C522.6 523.6 523.9 523.7 525.3 523.8 C526.6 523.9 527.9 524.0 529.2 524.1 C530.6 524.2 531.9 524.3 533.2 524.4 C534.6 524.5 535.9 524.6 537.2 524.7 C538.6 524.8 539.9 524.9 541.2 525.0 C542.5 525.1 543.9 525.2 545.2 525.3 C546.5 525.4 547.9 525.5 549.2 525.6 C550.5 525.7 551.8 525.8 553.2 525.9 C554.5 526.0 555.8 526.1 557.2 526.2 C558.5 526.3 559.8 526.4 561.2 526.5 C562.5 526.6 563.8 526.7 565.1 526.8 C566.5 526.9 567.8 527.0 569.1 527.2 C570.5 527.3 571.8 527.4 573.1 527.5 C574.4 527.7 575.8 527.8 577.1 528.0 C578.4 528.1 579.7 528.3 581.1 528.4 C582.4 528.5 583.4 528.7 585.1 528.8 C586.7 529.0 590.0 529.3 591.0 529.4" stroke="#00bfff"/>
<path d="M615.6 530.5 C616.3 530.5 618.6 530.6 620.0 530.6 C621.4 530.6 622.7 530.7 624.0 530.7 C625.3 530.7 626.7 530.8 628.0 530.8 C629.3 530.8 630.7 530.8 632.0 530.9 C633.3 530.9 634.7 530.9 636.0 531.0 C637.3 531.0 638.7 531.0 640.0 531.1 C641.3 531.1 643.0 531.1 644.0 531.2 C645.0 531.2 645.7 531.2 646.0 531.2" stroke="#00bfff"/>
<path d="M218.5 44.0 C218.6 44.8 218.8 47.5 218.9 49.0 C219.0 50.5 219.1 51.7 219.1 53.0 C219.2 54.3 219.3 55.6 219.4 57.0 C219.5 58.3 219.6 59.6 219.7 61.0 C219.8 62.3 219.9 63.6 220.0 65.0 C220.1 66.3 220.2 67.6 220.3 69.0 C220.4 70.3 220.5 71.6 220.6 72.9 C220.7 74.3 220.8 75.6 220.9 76.9 C221.0 78.3 221.1 79.6 221.2 80.9 C221.3 82.3 221.4 83.6 221.5 84.9 C221.6 86.2 221.6 87.6 221.7 88.9 C221.8 90.2 221.9 91.6 222.0 92.9 C222.1 94.2 222.2 95.6 222.3 96.9 C222.4 98.2 222.5 99.6 222.6 100.9 C222.7 102.2 222.8 103.5 222.9 104.9 C223.0 106.2 223.1 107.5 223.2 108.9 C223.3 110.2 223.4 111.5 223.5 112.9 C223.6 114.2 223.7 115.5 223.8 116.9 C223.9 118.2 224.0 119.5 224.1 120.8 C224.1 122.2 224.2 123.5 224.3 124.8 C224.4 126.2 224.5 127.5 224.6 128.8 C224.7 130.2 224.8 131.5 224.9 132.8 C225.0 134.2 225.1 135.5 225.2 136.8 C225.3 138.1 225.4 139.5 225.5 140.8 C225.6 142.1 225.7 143.4 225.8 144.8 C225.9 146.2 226.1 148.5 226.1 149.2" stroke="#0070ff"/>
<path d="M228.9 181.5 C229.0 182.2 229.2 184.3 229.4 185.7 C229.6 187.0 229.8 188.3 229.9 189.6 C230.1 190.9 230.3 192.3 230.5 193.6 C230.7 194.9 230.9 196.2 231.0 197.6 C231.2 198.9 231.4 200.2 231.6 201.5 C231.8 202.8 232.0 204.2 232.1 205.5 C232.3 206.8 232.5 208.1 232.7 209.4 C232.9 210.8 233.1 212.1 233.3 213.4 C233.4 214.7 233.6 216.1 233.8 217.4 C234.0 218.7 234.2 220.0 234.4 221.3 C234.5 222.7 234.7 224.0 234.9 225.3 C235.1 226.6 235.3 227.9 235.5 229.3 C235.7 230.6 235.8 231.9 236.0 233.2 C236.2 234.6 236.4 235.9 236.6 237.2 C236.8 238.5 237.0 239.8 237.2 241.1 C237.4 242.5 237.7 243.8 237.9 245.1 C238.1 246.4 238.3 247.7 238.6 249.0 C238.8 250.4 239.0 251.7 239.2 253.0 C239.5 254.3 239.7 255.6 239.9 256.9 C240.2 258.2 240.4 259.6 240.6 260.9 C240.9 262.2 241.1 263.5 241.3 264.8 C241.6 266.1 241.8 267.4 242.1 268.7 C242.4 270.0 242.7 271.3 243.0 272.6 C243.3 273.9 243.7 275.2 244.0 276.5 C244.3 277.8 244.7 279.1 245.0 280.4 C245.4 281.6 245.8 282.9 246.1 284.2 C246.5 285.5 246.8 286.8 247.1 288.1 C247.5 289.4 247.8 290.7 248.2 292.0 C248.5 293.2 248.8 294.5 249.1 295.8 C249.5 297.1 249.8 298.4 250.1 299.7 C250.4 301.0 250.7 302.3 251.0 303.6 C251.3 304.9 251.6 306.2 251.9 307.5 C252.2 308.8 252.6 310.1 252.9 311.4 C253.2 312.7 253.5 314.0 253.8 315.3 C254.1 316.6 254.4 317.9 254.7 319.2 C255.0 320.5 255.3 321.8 255.6 323.1 C256.0 324.4 256.3 325.7 256.6 327.0 C256.9 328.3 257.2 329.6 257.5 330.9 C257.9 332.2 258.2 333.4 258.6 334.7 C259.0 336.0 259.3 337.3 259.7 338.6 C260.1 339.8 260.5 341.1 261.0 342.4 C261.4 343.6 261.8 344.9 262.2 346.2 C262.6 347.4 263.1 348.7 263.5 350.0 C263.9 351.2 264.3 352.5 264.8 353.8 C265.2 355.0 265.6 356.3 266.0 357.5 C266.5 358.8 266.9 360.1 267.4 361.3 C267.9 362.5 268.4 363.8 268.9 365.0 C269.4 366.2 270.0 367.4 270.6 368.6 C271.2 369.8 271.9 370.9 272.5 372.1 C273.1 373.3 273.8 374.5 274.4 375.6 C275.1 376.8 275.7 378.0 276.4 379.1 C277.0 380.3 277.7 381.4 278.3 382.6 C279.0 383.8 279.6 384.9 280.3 386.1 C280.9 387.3 281.6 388.4 282.2 389.6 C282.9 390.8 283.6 392.1 284.2 393.1 C284.8 394.1 285.3 395.1 285.6 395.5" stroke="#0070ff"/>
<path d="M299.7 417.3 C300.1 417.8 301.5 419.4 302.5 420.3 C303.5 421.3 304.4 422.1 305.4 423.0 C306.4 423.9 307.4 424.8 308.4 425.7 C309.4 426.6 310.4 427.5 311.3 428.4 C312.3 429.3 313.3 430.3 314.2 431.2 C315.2 432.1 316.1 433.1 317.1 434.0 C318.0 434.9 319.0 435.9 319.9 436.8 C320.9 437.7 321.9 438.6 322.9 439.5 C323.8 440.4 324.8 441.3 325.8 442.2 C326.8 443.1 327.8 444.0 328.8 444.9 C329.8 445.8 330.8 446.7 331.8 447.6 C332.7 448.5 333.7 449.4 334.7 450.2 C335.8 451.1 336.8 452.0 337.8 452.8 C338.8 453.6 339.9 454.4 341.0 455.2 C342.1 455.9 343.2 456.6 344.4 457.3 C345.5 458.0 346.7 458.6 347.8 459.3 C349.0 459.9 350.2 460.5 351.4 461.2 C352.5 461.8 353.7 462.4 354.9 463.0 C356.1 463.7 357.2 464.3 358.4 464.9 C359.6 465.6 360.8 466.2 361.9 466.8 C363.1 467.4 364.3 468.1 365.5 468.7 C366.7 469.3 367.9 469.9 369.1 470.5 C370.3 471.0 371.5 471.6 372.7 472.1 C373.9 472.7 375.1 473.2 376.4 473.7 C377.6 474.2 378.8 474.7 380.1 475.2 C381.3 475.7 382.6 476.2 383.8 476.6 C385.1 477.1 386.3 477.6 387.5 478.1 C388.8 478.6 390.0 479.1 391.3 479.6 C392.5 480.1 393.7 480.6 395.0 481.1 C396.2 481.5 397.5 482.0 398.7 482.5 C399.9 483.0 401.2 483.5 402.4 484.0 C403.7 484.5 404.9 485.0 406.1 485.5 C407.4 486.0 408.6 486.5 409.8 487.0 C411.1 487.5 412.3 488.0 413.5 488.5 C414.8 489.0 416.0 489.5 417.2 490.0 C418.5 490.6 419.7 491.1 420.9 491.6 C422.2 492.1 423.2 492.5 424.7 493.0 C426.1 493.5 428.8 494.4 429.6 494.7" stroke="#0070ff"/>
<path d="M455.9 500.0 C456.7 500.2 459.2 500.8 460.7 501.1 C462.1 501.5 463.3 501.8 464.6 502.1 C465.8 502.5 467.1 502.8 468.4 503.2 C469.7 503.5 471.0 503.9 472.3 504.2 C473.6 504.5 474.9 504.9 476.2 505.2 C477.5 505.5 478.7 505.9 480.0 506.2 C481.3 506.5 482.6 506.8 483.9 507.0 C485.2 507.3 486.6 507.6 487.9 507.9 C489.2 508.1 490.5 508.4 491.8 508.7 C493.1 508.9 494.4 509.2 495.7 509.5 C497.0 509.7 498.3 510.0 499.6 510.2 C500.9 510.5 502.2 510.8 503.6 511.0 C504.9 511.3 506.2 511.5 507.5 511.7 C508.8 511.9 510.1 512.1 511.5 512.3 C512.8 512.5 514.1 512.6 515.4 512.8 C516.7 512.9 518.1 513.0 519.4 513.2 C520.7 513.3 522.1 513.5 523.4 513.6 C524.7 513.7 526.0 513.9 527.4 514.0 C528.7 514.1 530.0 514.3 531.3 514.4 C532.7 514.5 534.0 514.7 535.3 514.8 C536.7 514.9 538.0 515.1 539.3 515.2 C540.6 515.4 542.0 515.5 543.3 515.6 C544.6 515.8 545.9 515.9 547.3 516.0 C548.6 516.2 549.9 516.3 551.3 516.5 C552.6 516.6 553.9 516.8 555.2 516.9 C556.6 517.0 557.9 517.2 559.2 517.3 C560.5 517.5 561.9 517.6 563.2 517.7 C564.5 517.9 565.8 518.0 567.2 518.2 C568.5 518.3 569.8 518.5 571.2 518.6 C572.5 518.8 573.8 518.9 575.1 519.1 C576.5 519.2 577.8 519.4 579.1 519.5 C580.4 519.7 581.8 519.8 583.1 520.0 C584.4 520.1 585.7 520.3 587.1 520.4 C588.4 520.5 589.4 520.7 591.0 520.8 C592.6 521.0 595.8 521.3 596.7 521.4" stroke="#0070ff"/>
<path d="M621.2 522.5 C622.0 522.5 624.5 522.6 626.0 522.7 C627.5 522.7 628.7 522.8 630.0 522.8 C631.3 522.9 632.7 522.9 634.0 523.0 C635.3 523.0 636.7 523.1 638.0 523.1 C639.3 523.2 640.7 523.2 642.0 523.3 C643.3 523.3 645.3 523.4 646.0 523.4" stroke="#0070ff"/>
<path d="M262.0 100.0 C262.1 100.8 262.5 103.5 262.7 105.0 C262.9 106.4 263.1 107.6 263.3 108.9 C263.5 110.2 263.7 111.6 263.9 112.9 C264.1 114.2 264.2 115.5 264.4 116.8 C264.6 118.2 264.8 119.5 265.0 120.8 C265.1 122.1 265.3 123.5 265.5 124.8 C265.7 126.1 265.8 127.4 266.0 128.7 C266.2 130.1 266.4 131.4 266.5 132.7 C266.7 134.0 266.9 135.4 267.1 136.7 C267.2 138.0 267.4 139.3 267.6 140.7 C267.8 142.0 267.9 143.3 268.1 144.6 C268.3 145.9 268.5 147.3 268.6 148.6 C268.8 149.9 269.0 151.2 269.2 152.6 C269.3 153.9 269.5 155.2 269.7 156.5 C269.9 157.8 270.0 159.2 270.2 160.5 C270.4 161.8 270.6 163.1 270.8 164.5 C271.0 165.8 271.2 167.1 271.4 168.4 C271.6 169.7 271.8 171.1 272.0 172.4 C272.2 173.7 272.4 175.0 272.6 176.3 C272.8 177.7 273.0 179.0 273.2 180.3 C273.4 181.6 273.6 182.9 273.8 184.2 C274.0 185.6 274.2 186.9 274.4 188.2 C274.6 189.5 274.8 190.8 275.0 192.2 C275.2 193.5 275.4 194.8 275.6 196.1 C275.8 197.4 276.0 198.8 276.2 200.1 C276.4 201.4 276.6 202.7 276.8 204.0 C277.1 205.3 277.3 206.7 277.5 208.0 C277.7 209.3 277.9 210.6 278.2 211.9 C278.4 213.2 278.6 214.6 278.8 215.9 C279.1 217.2 279.3 218.5 279.5 219.8 C279.7 221.1 280.0 222.4 280.2 223.8 C280.4 225.1 280.6 226.4 280.9 227.7 C281.1 229.0 281.3 230.3 281.5 231.7 C281.8 233.0 282.0 234.3 282.2 235.6 C282.4 236.9 282.7 238.2 282.9 239.5 C283.1 240.9 283.3 242.2 283.6 243.5 C283.8 244.8 284.0 246.1 284.3 247.4 C284.5 248.8 284.7 250.1 284.9 251.4 C285.2 252.7 285.4 254.0 285.6 255.3 C285.9 256.6 286.1 257.9 286.4 259.2 C286.7 260.5 287.0 261.8 287.3 263.1 C287.7 264.4 288.0 265.7 288.3 267.0 C288.7 268.3 289.0 269.6 289.4 270.9 C289.7 272.2 290.1 273.5 290.4 274.7 C290.8 276.0 291.1 277.3 291.5 278.6 C291.8 279.9 292.2 281.2 292.5 282.5 C292.9 283.7 293.2 285.0 293.6 286.3 C293.9 287.6 294.3 288.9 294.7 290.2 C295.0 291.5 295.4 292.8 295.8 294.0 C296.1 295.3 296.5 296.6 296.9 297.9 C297.3 299.1 297.7 300.4 298.1 301.7 C298.5 303.0 298.9 304.2 299.4 305.5 C299.8 306.8 300.2 308.0 300.6 309.3 C301.0 310.6 301.5 311.8 301.9 313.1 C302.3 314.4 302.7 315.6 303.1 316.9 C303.6 318.1 304.0 319.4 304.4 320.7 C304.8 321.9 305.2 323.2 305.7 324.5 C306.1 325.7 306.5 326.9 307.0 328.3 C307.5 329.7 308.4 332.1 308.7 332.9" stroke="#0010ff"/>
<path d="M320.8 359.2 C321.1 359.8 322.1 361.6 322.8 362.8 C323.5 363.9 324.2 365.1 324.9 366.2 C325.6 367.3 326.3 368.5 327.0 369.6 C327.7 370.7 328.4 371.9 329.1 373.0 C329.8 374.1 330.5 375.3 331.2 376.4 C331.9 377.5 332.6 378.7 333.3 379.8 C334.0 380.9 334.7 382.1 335.4 383.2 C336.1 384.3 336.8 385.5 337.5 386.6 C338.3 387.7 339.0 388.9 339.7 390.0 C340.4 391.1 341.1 392.2 341.8 393.4 C342.5 394.5 343.3 395.6 344.0 396.7 C344.7 397.9 345.4 399.0 346.1 400.1 C346.9 401.2 347.6 402.3 348.4 403.4 C349.1 404.5 349.9 405.6 350.8 406.6 C351.6 407.6 352.5 408.6 353.4 409.6 C354.3 410.6 355.2 411.5 356.1 412.5 C357.1 413.5 358.0 414.4 358.9 415.3 C359.9 416.3 360.8 417.2 361.8 418.2 C362.7 419.1 363.7 420.1 364.6 421.0 C365.6 421.9 366.5 422.9 367.5 423.8 C368.5 424.7 369.5 425.6 370.5 426.4 C371.5 427.3 372.5 428.1 373.6 428.9 C374.7 429.7 375.7 430.5 376.8 431.3 C377.9 432.0 379.0 432.8 380.1 433.5 C381.2 434.3 382.3 435.1 383.4 435.8 C384.5 436.6 385.6 437.3 386.7 438.1 C387.8 438.9 388.9 439.6 390.0 440.4 C391.1 441.1 392.2 441.9 393.3 442.6 C394.4 443.4 395.5 444.1 396.6 444.8 C397.8 445.5 398.9 446.2 400.1 446.9 C401.2 447.6 402.4 448.3 403.5 448.9 C404.7 449.6 405.8 450.3 407.0 450.9 C408.1 451.6 409.3 452.3 410.5 452.9 C411.6 453.6 412.8 454.2 413.9 454.9 C415.1 455.6 416.2 456.2 417.4 456.9 C418.6 457.5 419.7 458.2 420.9 458.9 C422.1 459.5 423.2 460.1 424.4 460.8 C425.6 461.4 426.8 462.0 428.0 462.6 C429.2 463.2 430.4 463.8 431.6 464.3 C432.8 464.9 434.0 465.5 435.2 466.0 C436.4 466.6 437.6 467.1 438.8 467.7 C440.1 468.2 442.2 469.0 442.8 469.2" stroke="#0010ff"/>
<path d="M465.3 475.5 C466.0 475.7 468.1 476.3 469.5 476.8 C470.8 477.2 472.0 477.6 473.3 478.0 C474.5 478.5 475.8 478.9 477.0 479.3 C478.3 479.8 479.6 480.2 480.8 480.6 C482.1 481.1 483.3 481.5 484.6 481.9 C485.9 482.3 487.1 482.8 488.4 483.1 C489.7 483.5 491.0 483.9 492.3 484.2 C493.6 484.6 494.8 484.9 496.1 485.2 C497.4 485.6 498.7 485.9 500.0 486.2 C501.3 486.5 502.6 486.8 503.9 487.1 C505.2 487.4 506.5 487.7 507.8 488.0 C509.1 488.3 510.4 488.6 511.7 488.9 C513.0 489.2 514.3 489.5 515.6 489.7 C516.9 490.0 518.2 490.3 519.6 490.6 C520.9 490.8 522.2 491.1 523.5 491.3 C524.8 491.6 526.1 491.8 527.4 492.0 C528.7 492.2 530.1 492.5 531.4 492.7 C532.7 492.9 534.0 493.2 535.3 493.4 C536.6 493.6 537.9 493.9 539.3 494.1 C540.6 494.3 541.9 494.6 543.2 494.8 C544.5 495.1 545.8 495.4 547.1 495.6 C548.4 495.9 549.7 496.2 551.0 496.5 C552.3 496.8 553.6 497.0 554.9 497.3 C556.2 497.6 557.5 497.9 558.8 498.2 C560.1 498.5 561.4 498.8 562.7 499.1 C564.0 499.4 565.4 499.7 566.7 499.9 C568.0 500.2 569.3 500.5 570.6 500.7 C571.9 501.0 573.2 501.2 574.5 501.4 C575.8 501.6 577.2 501.9 578.5 502.1 C579.8 502.3 581.1 502.5 582.4 502.7 C583.7 502.9 585.1 503.1 586.4 503.3 C587.7 503.5 589.0 503.7 590.3 503.9 C591.7 504.1 593.0 504.3 594.3 504.6 C595.6 504.8 596.9 505.0 598.2 505.2 C599.6 505.4 600.9 505.6 602.2 505.7 C603.5 505.9 605.5 506.2 606.1 506.2" stroke="#0010ff"/>
<path d="M630.7 508.4 C631.4 508.5 633.7 508.7 635.1 508.9 C636.5 509.0 637.7 509.2 639.0 509.3 C640.4 509.5 641.9 509.7 643.0 509.8 C644.2 510.0 645.5 510.1 646.0 510.2" stroke="#0010ff"/>
<path d="M300.0 100.0 C300.2 100.8 300.7 103.4 300.9 104.9 C301.2 106.4 301.5 107.5 301.7 108.9 C301.9 110.2 302.2 111.5 302.4 112.8 C302.6 114.1 302.9 115.4 303.1 116.7 C303.3 118.1 303.5 119.4 303.7 120.7 C303.8 122.0 304.0 123.3 304.2 124.7 C304.4 126.0 304.6 127.3 304.7 128.6 C304.9 130.0 305.1 131.3 305.3 132.6 C305.5 133.9 305.6 135.3 305.8 136.6 C306.0 137.9 306.2 139.2 306.4 140.6 C306.5 141.9 306.7 143.2 306.9 144.5 C307.1 145.8 307.3 147.2 307.4 148.5 C307.6 149.8 307.8 151.1 308.0 152.5 C308.2 153.8 308.3 155.1 308.5 156.4 C308.7 157.8 308.9 159.1 309.0 160.4 C309.2 161.7 309.4 163.0 309.6 164.4 C309.8 165.7 309.9 167.0 310.1 168.3 C310.3 169.7 310.5 171.0 310.7 172.3 C310.9 173.6 311.1 174.9 311.3 176.3 C311.5 177.6 311.7 178.9 312.0 180.2 C312.2 181.5 312.4 182.8 312.6 184.2 C312.9 185.5 313.1 186.8 313.3 188.1 C313.6 189.4 313.8 190.7 314.0 192.1 C314.2 193.4 314.5 194.7 314.7 196.0 C314.9 197.3 315.2 198.6 315.4 199.9 C315.6 201.3 315.8 202.6 316.1 203.9 C316.3 205.2 316.5 206.5 316.8 207.8 C317.0 209.2 317.2 210.5 317.5 211.8 C317.7 213.1 317.9 214.4 318.1 215.7 C318.4 217.0 318.6 218.4 318.8 219.7 C319.1 221.0 319.3 222.1 319.5 223.6 C319.8 225.1 320.4 227.8 320.6 228.7" stroke="#0000df"/>
<path d="M328.8 260.2 C329.0 260.9 329.6 263.0 330.0 264.3 C330.4 265.7 330.7 266.9 331.1 268.2 C331.5 269.5 331.9 270.7 332.3 272.0 C332.7 273.3 333.0 274.6 333.4 275.9 C333.8 277.1 334.2 278.4 334.6 279.7 C335.0 281.0 335.4 282.2 335.9 283.5 C336.3 284.8 336.7 286.0 337.1 287.3 C337.5 288.6 337.9 289.8 338.4 291.1 C338.8 292.4 339.2 293.6 339.6 294.9 C340.0 296.2 340.5 297.4 340.9 298.7 C341.3 300.0 341.7 301.2 342.1 302.5 C342.6 303.8 343.0 305.0 343.4 306.3 C343.9 307.6 344.3 308.8 344.8 310.1 C345.2 311.3 345.7 312.6 346.2 313.8 C346.6 315.1 347.1 316.3 347.6 317.6 C348.1 318.8 348.6 320.0 349.1 321.3 C349.6 322.5 350.1 323.8 350.6 325.0 C351.1 326.2 351.6 327.5 352.1 328.7 C352.6 330.0 353.0 331.2 353.5 332.5 C354.0 333.7 354.5 334.9 355.0 336.2 C355.5 337.4 356.1 338.6 356.6 339.8 C357.2 341.1 357.7 342.3 358.3 343.4 C358.9 344.6 359.6 345.8 360.2 347.0 C360.8 348.2 361.4 349.4 362.1 350.5 C362.7 351.7 363.3 352.9 363.9 354.1 C364.6 355.2 365.2 356.4 365.8 357.6 C366.5 358.8 367.1 359.9 367.8 361.1 C368.4 362.3 369.1 363.4 369.8 364.6 C370.4 365.7 371.2 366.8 371.9 368.0 C372.6 369.1 373.4 370.2 374.2 371.3 C374.9 372.3 375.7 373.4 376.5 374.5 C377.3 375.6 378.1 376.7 378.8 377.7 C379.6 378.8 380.4 379.9 381.2 381.0 C382.0 382.0 382.8 383.1 383.6 384.2 C384.4 385.2 385.2 386.3 386.1 387.3 C386.9 388.3 387.8 389.3 388.7 390.3 C389.6 391.3 390.5 392.3 391.5 393.2 C392.4 394.2 393.3 395.1 394.3 396.1 C395.2 397.0 396.2 398.0 397.1 398.9 C398.1 399.9 399.0 400.8 400.0 401.7 C400.9 402.7 401.9 403.6 402.8 404.5 C403.8 405.4 404.8 406.3 405.8 407.2 C406.8 408.1 407.8 408.9 408.8 409.8 C409.9 410.7 410.9 411.5 411.9 412.3 C413.0 413.2 414.0 414.0 415.1 414.8 C416.1 415.7 417.1 416.5 418.2 417.4 C419.2 418.2 420.2 418.9 421.3 419.9 C422.5 420.8 424.5 422.4 425.1 422.9" stroke="#0000df"/>
<path d="M445.6 438.6 C446.2 438.9 448.1 440.0 449.4 440.6 C450.6 441.3 451.8 441.8 453.0 442.3 C454.2 442.9 455.4 443.4 456.6 443.9 C457.9 444.5 459.1 445.0 460.3 445.5 C461.5 446.1 462.8 446.6 464.0 447.1 C465.2 447.7 466.4 448.2 467.7 448.7 C468.9 449.3 470.1 449.8 471.3 450.3 C472.6 450.8 473.8 451.4 475.0 451.9 C476.3 452.4 477.5 452.9 478.7 453.4 C479.9 454.0 481.2 454.5 482.4 455.0 C483.6 455.5 484.9 456.0 486.1 456.6 C487.3 457.1 488.6 457.6 489.8 458.1 C491.0 458.6 492.3 459.1 493.5 459.6 C494.7 460.1 496.0 460.6 497.2 461.1 C498.5 461.6 499.7 462.1 501.0 462.5 C502.2 463.0 503.5 463.4 504.7 463.9 C506.0 464.3 507.3 464.7 508.5 465.1 C509.8 465.6 511.1 466.0 512.3 466.4 C513.6 466.8 514.9 467.2 516.1 467.7 C517.4 468.1 518.7 468.5 520.0 468.9 C521.2 469.3 522.5 469.7 523.8 470.1 C525.0 470.5 526.3 470.9 527.6 471.3 C528.9 471.7 530.2 472.0 531.4 472.4 C532.7 472.8 534.0 473.2 535.3 473.6 C536.5 474.0 537.8 474.4 539.1 474.7 C540.4 475.1 541.7 475.5 542.9 475.9 C544.2 476.3 545.5 476.7 546.8 477.0 C548.1 477.4 549.3 477.8 550.6 478.2 C551.9 478.5 553.2 478.9 554.5 479.2 C555.8 479.6 557.1 479.9 558.4 480.3 C559.7 480.6 560.9 480.9 562.2 481.2 C563.5 481.6 564.8 481.9 566.1 482.2 C567.4 482.6 568.7 482.9 570.0 483.2 C571.3 483.5 572.6 483.9 573.9 484.2 C575.2 484.5 576.2 484.8 577.8 485.1 C579.4 485.5 582.6 486.2 583.5 486.4" stroke="#0000df"/>
<path d="M608.0 490.4 C608.7 490.5 610.9 490.8 612.3 491.0 C613.7 491.2 615.0 491.4 616.3 491.6 C617.6 491.8 618.9 492.0 620.2 492.2 C621.6 492.4 622.9 492.6 624.2 492.8 C625.5 493.0 626.8 493.2 628.2 493.4 C629.5 493.6 630.8 493.8 632.1 494.0 C633.4 494.2 634.8 494.3 636.1 494.5 C637.4 494.7 638.7 494.9 640.1 495.1 C641.4 495.3 643.0 495.6 644.0 495.7 C645.0 495.9 645.7 496.0 646.0 496.0" stroke="#0000df"/>
<path d="M368.0 100.0 C368.1 100.8 368.5 103.5 368.8 105.0 C369.0 106.4 369.2 107.6 369.4 108.9 C369.6 110.2 369.8 111.5 370.0 112.9 C370.3 114.2 370.5 115.5 370.7 116.8 C371.0 118.1 371.3 119.4 371.5 120.7 C371.8 122.0 372.0 123.1 372.3 124.7 C372.6 126.3 373.1 129.4 373.3 130.3" stroke="#0000bf"/>
<path d="M377.2 161.3 C377.4 161.9 377.7 164.0 378.0 165.3 C378.3 166.6 378.6 167.9 378.8 169.2 C379.1 170.5 379.4 171.8 379.7 173.1 C380.0 174.4 380.3 175.7 380.6 177.0 C380.9 178.3 381.2 179.6 381.5 180.9 C381.8 182.2 382.1 183.5 382.4 184.8 C382.7 186.1 383.0 187.4 383.4 188.7 C383.7 190.0 384.0 191.3 384.3 192.6 C384.6 193.9 384.9 195.2 385.2 196.5 C385.5 197.8 385.8 199.1 386.1 200.5 C386.4 201.8 386.7 203.1 387.0 204.4 C387.3 205.7 387.6 207.0 387.9 208.3 C388.2 209.6 388.5 210.9 388.8 212.2 C389.1 213.5 389.4 214.8 389.7 216.1 C390.0 217.4 390.3 218.7 390.6 220.0 C390.9 221.3 391.2 222.6 391.5 223.9 C391.8 225.2 392.1 226.5 392.4 227.8 C392.7 229.1 393.0 230.4 393.3 231.7 C393.6 233.0 393.9 234.3 394.2 235.6 C394.5 236.9 394.9 238.2 395.2 239.5 C395.6 240.8 395.9 242.0 396.3 243.3 C396.6 244.6 397.0 245.9 397.4 247.2 C397.7 248.5 398.1 249.7 398.5 251.0 C398.9 252.3 399.2 253.6 399.6 254.9 C400.0 256.2 400.4 257.4 400.8 258.7 C401.1 260.0 401.5 261.3 401.9 262.5 C402.3 263.8 402.7 265.1 403.2 266.4 C403.6 267.6 404.0 268.9 404.5 270.1 C404.9 271.4 405.4 272.6 405.9 273.9 C406.3 275.1 406.8 276.4 407.3 277.6 C407.8 278.9 408.2 280.1 408.7 281.4 C409.2 282.6 409.7 283.9 410.1 285.1 C410.6 286.4 411.1 287.6 411.6 288.9 C412.1 290.1 412.5 291.4 413.0 292.6 C413.5 293.9 414.0 295.1 414.5 296.3 C415.0 297.6 415.5 298.8 416.0 300.0 C416.5 301.3 417.1 302.5 417.7 303.7 C418.3 304.9 418.9 306.0 419.5 307.2 C420.1 308.4 420.8 309.6 421.4 310.8 C422.0 311.9 422.7 313.1 423.3 314.3 C424.0 315.4 424.6 316.6 425.2 317.8 C425.9 319.0 426.5 320.1 427.2 321.3 C427.8 322.5 428.5 323.7 429.1 324.8 C429.8 326.0 430.4 327.2 431.1 328.3 C431.7 329.5 432.4 330.6 433.1 331.7 C433.8 332.9 434.5 334.0 435.3 335.1 C436.0 336.2 436.7 337.3 437.5 338.5 C438.2 339.6 439.0 340.7 439.7 341.8 C440.5 342.9 441.2 344.0 442.0 345.1 C442.7 346.2 443.5 347.3 444.3 348.4 C445.0 349.5 445.8 350.6 446.5 351.7 C447.3 352.8 448.0 353.9 448.8 355.0 C449.5 356.1 450.5 357.4 451.1 358.3 C451.7 359.1 452.2 359.8 452.4 360.1" stroke="#0000bf"/>
<path d="M466.8 378.2 C467.3 378.8 469.0 380.5 470.1 381.4 C471.1 382.4 472.1 383.2 473.1 384.1 C474.1 385.0 475.1 385.9 476.1 386.7 C477.1 387.6 478.1 388.5 479.1 389.3 C480.2 390.2 481.2 391.1 482.2 391.9 C483.2 392.8 484.2 393.7 485.2 394.6 C486.2 395.4 487.3 396.3 488.3 397.2 C489.3 398.0 490.3 398.9 491.3 399.8 C492.3 400.6 493.4 401.5 494.4 402.3 C495.4 403.2 496.5 404.0 497.5 404.8 C498.6 405.7 499.6 406.5 500.7 407.2 C501.8 408.0 502.9 408.8 504.0 409.5 C505.1 410.3 506.2 411.0 507.3 411.8 C508.4 412.6 509.5 413.3 510.6 414.1 C511.7 414.8 512.8 415.6 513.9 416.3 C515.0 417.1 516.1 417.8 517.2 418.6 C518.3 419.3 519.5 420.0 520.6 420.8 C521.7 421.5 522.8 422.2 523.9 423.0 C525.1 423.7 526.2 424.3 527.4 425.0 C528.5 425.7 529.7 426.3 530.9 427.0 C532.0 427.6 533.2 428.2 534.4 428.8 C535.6 429.4 536.8 430.1 538.0 430.7 C539.1 431.3 540.3 431.9 541.5 432.5 C542.7 433.1 543.9 433.7 545.1 434.3 C546.3 434.9 547.5 435.6 548.7 436.2 C549.8 436.8 551.0 437.4 552.2 438.0 C553.4 438.5 554.6 439.1 555.8 439.7 C557.1 440.3 558.3 440.8 559.5 441.3 C560.7 441.9 561.9 442.4 563.2 442.9 C564.4 443.5 565.6 444.0 566.9 444.5 C568.1 445.0 569.3 445.5 570.6 446.0 C571.8 446.5 573.0 447.0 574.3 447.5 C575.5 448.0 576.8 448.4 578.0 448.9 C579.3 449.4 580.5 449.9 581.8 450.3 C583.0 450.8 584.3 451.3 585.5 451.8 C586.8 452.2 588.0 452.7 589.3 453.2 C590.5 453.6 591.8 454.1 593.0 454.6 C594.3 455.0 595.5 455.5 596.8 456.0 C598.0 456.4 599.9 457.0 600.5 457.3" stroke="#0000bf"/>
<path d="M623.1 463.9 C623.9 464.1 626.1 464.7 627.5 465.1 C628.9 465.4 630.1 465.7 631.4 466.0 C632.7 466.3 634.0 466.7 635.3 467.0 C636.6 467.3 637.9 467.6 639.2 467.9 C640.5 468.3 641.9 468.6 643.1 468.9 C644.2 469.2 645.5 469.5 646.0 469.6" stroke="#0000bf"/>
<path d="M535.7 133.0 C535.9 133.8 536.5 136.4 536.9 137.9 C537.2 139.3 537.5 140.5 537.8 141.8 C538.2 143.1 538.5 144.4 538.8 145.7 C539.1 147.0 539.4 148.3 539.7 149.6 C540.1 150.9 540.4 152.2 540.7 153.5 C541.0 154.8 541.3 156.1 541.6 157.4 C542.0 158.7 542.3 160.0 542.6 161.3 C542.9 162.6 543.2 163.8 543.6 165.1 C543.9 166.4 544.2 167.7 544.5 169.0 C544.8 170.3 545.1 171.6 545.5 172.9 C545.8 174.2 546.1 175.5 546.4 176.8 C546.7 178.1 547.0 179.4 547.4 180.7 C547.7 182.0 548.0 183.3 548.3 184.6 C548.6 185.9 549.0 187.2 549.3 188.5 C549.6 189.8 549.9 191.1 550.3 192.4 C550.6 193.7 551.0 195.0 551.4 196.3 C551.7 197.6 552.1 198.8 552.5 200.1 C552.9 201.4 553.3 202.7 553.7 203.9 C554.1 205.2 554.5 206.5 554.9 207.8 C555.2 209.1 555.6 210.3 556.0 211.6 C556.4 212.9 556.8 214.2 557.2 215.5 C557.6 216.7 558.0 218.0 558.4 219.3 C558.8 220.6 559.2 221.8 559.6 223.1 C560.0 224.4 560.4 225.7 560.7 227.0 C561.1 228.2 561.5 229.5 561.9 230.8 C562.3 232.1 562.7 233.3 563.1 234.6 C563.6 235.9 564.0 237.1 564.4 238.4 C564.9 239.7 565.4 240.9 565.9 242.1 C566.4 243.4 566.9 244.6 567.4 245.8 C567.9 247.1 568.5 248.3 569.0 249.5 C569.5 250.7 570.1 252.0 570.6 253.2 C571.2 254.4 571.7 255.6 572.2 256.9 C572.8 258.1 573.3 259.3 573.9 260.5 C574.4 261.8 575.0 263.0 575.5 264.2 C576.1 265.4 576.6 266.6 577.2 267.8 C577.8 269.0 578.4 270.2 578.9 271.4 C579.5 272.6 580.1 273.8 580.7 275.0 C581.3 276.2 581.9 277.4 582.5 278.6 C583.1 279.8 583.7 281.0 584.3 282.2 C584.9 283.4 585.5 284.6 586.1 285.8 C586.7 287.0 587.3 288.2 587.9 289.4 C588.5 290.6 589.1 291.8 589.7 292.9 C590.3 294.1 591.0 295.3 591.6 296.5 C592.2 297.7 592.9 298.8 593.5 300.0 C594.2 301.2 594.9 302.3 595.6 303.5 C596.3 304.6 597.0 305.7 597.7 306.9 C598.4 308.0 599.1 309.1 599.8 310.2 C600.5 311.4 601.3 312.5 602.0 313.6 C602.7 314.8 603.4 315.9 604.1 317.0 C604.8 318.2 605.6 319.3 606.3 320.4 C607.0 321.5 607.7 322.7 608.5 323.8 C609.2 324.9 610.1 326.2 610.7 327.1 C611.3 327.9 611.8 328.5 612.0 328.8" stroke="#00008f"/>
<path d="M629.3 347.7 C629.9 348.1 631.4 349.6 632.5 350.6 C633.5 351.5 634.4 352.4 635.4 353.2 C636.4 354.1 637.4 355.0 638.5 355.9 C639.5 356.8 640.5 357.7 641.5 358.5 C642.5 359.4 643.7 360.5 644.5 361.2 C645.2 361.8 645.7 362.3 646.0 362.5" stroke="#00008f"/>
<text x="0" y="4.9" transform="translate(139.5 134.0) rotate(90.0) scale(1.12 1)" class="cl">700</text>
<text x="0" y="4.9" transform="translate(156.5 401.0) rotate(84.0) scale(1.12 1)" class="cl">700</text>
<text x="0" y="4.9" transform="translate(282.9 539.6) rotate(10.0) scale(1.12 1)" class="cl">700</text>
<text x="0" y="4.9" transform="translate(448.4 549.5) rotate(4.0) scale(1.12 1)" class="cl">700</text>
<text x="0" y="4.9" transform="translate(148.0 100.0) rotate(90.0) scale(1.12 1)" class="cl">600</text>
<text x="0" y="4.9" transform="translate(167.5 366.0) rotate(80.0) scale(1.12 1)" class="cl">600</text>
<text x="0" y="4.9" transform="translate(287.0 525.0) rotate(13.0) scale(1.12 1)" class="cl">600</text>
<text x="0" y="4.9" transform="translate(453.0 544.0) rotate(5.0) scale(1.12 1)" class="cl">600</text>
<text x="0" y="4.9" transform="translate(156.0 74.0) rotate(90.0) scale(1.12 1)" class="cl">500</text>
<text x="0" y="4.9" transform="translate(176.8 341.5) rotate(82.0) scale(1.12 1)" class="cl">500</text>
<text x="0" y="4.9" transform="translate(291.0 513.5) rotate(16.0) scale(1.12 1)" class="cl">500</text>
<text x="0" y="4.9" transform="translate(456.0 538.0) rotate(6.0) scale(1.12 1)" class="cl">500</text>
<text x="0" y="4.9" transform="translate(168.0 46.0) rotate(90.0) scale(1.12 1)" class="cl">400</text>
<text x="0" y="4.9" transform="translate(189.7 313.5) rotate(78.0) scale(1.12 1)" class="cl">400</text>
<text x="0" y="4.9" transform="translate(299.5 497.5) rotate(20.0) scale(1.12 1)" class="cl">400</text>
<text x="0" y="4.9" transform="translate(463.0 530.5) rotate(7.0) scale(1.12 1)" class="cl">400</text>
<text x="0" y="4.9" transform="translate(203.2 207.0) rotate(86.0) scale(1.12 1)" class="cl">300</text>
<text x="0" y="4.9" transform="translate(278.0 441.0) rotate(45.0) scale(1.12 1)" class="cl">300</text>
<text x="0" y="4.9" transform="translate(436.5 513.5) rotate(10.0) scale(1.12 1)" class="cl">300</text>
<text x="0" y="4.9" transform="translate(602.4 532.0) rotate(5.0) scale(1.12 1)" class="cl">300</text>
<text x="0" y="4.9" transform="translate(222.0 165.0) rotate(85.0) scale(1.12 1)" class="cl">250</text>
<text x="0" y="4.9" transform="translate(287.0 407.5) rotate(58.0) scale(1.12 1)" class="cl">250</text>
<text x="0" y="4.9" transform="translate(443.0 499.0) rotate(15.0) scale(1.12 1)" class="cl">250</text>
<text x="0" y="4.9" transform="translate(608.0 523.0) rotate(4.0) scale(1.12 1)" class="cl">250</text>
<text x="0" y="4.9" transform="translate(310.5 347.0) rotate(65.0) scale(1.12 1)" class="cl">200</text>
<text x="0" y="4.9" transform="translate(453.0 473.0) rotate(15.0) scale(1.12 1)" class="cl">200</text>
<text x="0" y="4.9" transform="translate(619.3 508.5) rotate(7.0) scale(1.12 1)" class="cl">200</text>
<text x="0" y="4.9" transform="translate(321.5 250.0) rotate(72.0) scale(1.12 1)" class="cl">175</text>
<text x="0" y="4.9" transform="translate(435.0 431.0) rotate(30.0) scale(1.12 1)" class="cl">175</text>
<text x="0" y="4.9" transform="translate(596.7 489.5) rotate(10.0) scale(1.12 1)" class="cl">175</text>
<text x="0" y="4.9" transform="translate(370.5 146.5) rotate(80.0) scale(1.12 1)" class="cl">150</text>
<text x="0" y="4.9" transform="translate(457.5 371.5) rotate(48.0) scale(1.12 1)" class="cl">150</text>
<text x="0" y="4.9" transform="translate(611.8 462.0) rotate(15.0) scale(1.12 1)" class="cl">150</text>
<text x="0" y="4.9" transform="translate(528.0 119.0) rotate(72.0) scale(1.12 1)" class="cl">125</text>
<text x="0" y="4.9" transform="translate(620.0 339.0) rotate(50.0) scale(1.12 1)" class="cl">125</text>
<text x="0" y="4.9" transform="translate(623.0 544.5) rotate(4.0) scale(1.12 1)" class="cl">500</text>
<text x="0" y="4.9" transform="translate(619.0 551.0) rotate(4.0) scale(1.12 1)" class="cl">600</text>
<text x="0" y="4.9" transform="translate(615.0 557.0) rotate(4.0) scale(1.12 1)" class="cl">700</text>
</g>
<rect x="129.1" y="46.4" width="515.2" height="512.2" class="axbox"/>
<text x="129.1" y="584" class="tl" text-anchor="middle">0</text>
<text x="123.6" y="567.2" class="tl" text-anchor="end">0</text>
<text x="202.7" y="584" class="tl" text-anchor="middle">2</text>
<text x="123.6" y="494.0" class="tl" text-anchor="end">2</text>
<text x="276.3" y="584" class="tl" text-anchor="middle">4</text>
<text x="123.6" y="420.9" class="tl" text-anchor="end">4</text>
<text x="349.9" y="584" class="tl" text-anchor="middle">6</text>
<text x="123.6" y="347.7" class="tl" text-anchor="end">6</text>
<text x="423.5" y="584" class="tl" text-anchor="middle">8</text>
<text x="123.6" y="274.5" class="tl" text-anchor="end">8</text>
<text x="497.1" y="584" class="tl" text-anchor="middle">10</text>
<text x="123.6" y="201.3" class="tl" text-anchor="end">10</text>
<text x="570.7" y="584" class="tl" text-anchor="middle">12</text>
<text x="123.6" y="128.2" class="tl" text-anchor="end">12</text>
<text x="644.3" y="584" class="tl" text-anchor="middle">14</text>
<text x="123.6" y="55.0" class="tl" text-anchor="end">14</text>
<line x1="827.8" y1="557.6" x2="827.8" y2="47.4" class="grid"/>
<line x1="755.2" y1="485.4" x2="1268.1" y2="485.4" class="grid"/>
<line x1="901.3" y1="557.6" x2="901.3" y2="47.4" class="grid"/>
<line x1="755.2" y1="412.3" x2="1268.1" y2="412.3" class="grid"/>
<line x1="974.9" y1="557.6" x2="974.9" y2="47.4" class="grid"/>
<line x1="755.2" y1="339.1" x2="1268.1" y2="339.1" class="grid"/>
<line x1="1048.4" y1="557.6" x2="1048.4" y2="47.4" class="grid"/>
<line x1="755.2" y1="265.9" x2="1268.1" y2="265.9" class="grid"/>
<line x1="1122.0" y1="557.6" x2="1122.0" y2="47.4" class="grid"/>
<line x1="755.2" y1="192.7" x2="1268.1" y2="192.7" class="grid"/>
<line x1="1195.5" y1="557.6" x2="1195.5" y2="47.4" class="grid"/>
<line x1="755.2" y1="119.6" x2="1268.1" y2="119.6" class="grid"/>
<path d="M754.2 558.6v-6M754.2 46.4v6" class="tick"/>
<path d="M754.2 558.6h6M1269.1 558.6h-6" class="tick"/>
<path d="M827.8 558.6v-6M827.8 46.4v6" class="tick"/>
<path d="M754.2 485.4h6M1269.1 485.4h-6" class="tick"/>
<path d="M901.3 558.6v-6M901.3 46.4v6" class="tick"/>
<path d="M754.2 412.3h6M1269.1 412.3h-6" class="tick"/>
<path d="M974.9 558.6v-6M974.9 46.4v6" class="tick"/>
<path d="M754.2 339.1h6M1269.1 339.1h-6" class="tick"/>
<path d="M1048.4 558.6v-6M1048.4 46.4v6" class="tick"/>
<path d="M754.2 265.9h6M1269.1 265.9h-6" class="tick"/>
<path d="M1122.0 558.6v-6M1122.0 46.4v6" class="tick"/>
<path d="M754.2 192.7h6M1269.1 192.7h-6" class="tick"/>
<path d="M1195.5 558.6v-6M1195.5 46.4v6" class="tick"/>
<path d="M754.2 119.6h6M1269.1 119.6h-6" class="tick"/>
<path d="M1269.1 558.6v-6M1269.1 46.4v6" class="tick"/>
<path d="M754.2 46.4h6M1269.1 46.4h-6" class="tick"/>
<g clip-path="url(#cR)" fill="none" stroke-width="5.3" stroke-linejoin="round" stroke-linecap="butt">
<path d="M775.6 44.0 C775.6 44.8 775.7 47.5 775.7 49.0 C775.8 50.5 775.8 51.7 775.8 53.0 C775.8 54.3 775.9 55.7 775.9 57.0 C775.9 58.3 776.0 59.7 776.0 61.0 C776.0 62.3 776.1 63.7 776.1 65.0 C776.1 66.3 776.1 67.7 776.2 69.0 C776.2 70.4 776.2 71.7 776.3 73.0 C776.3 74.4 776.3 75.7 776.4 77.0 C776.4 78.4 776.4 79.7 776.5 81.0 C776.5 82.4 776.5 83.7 776.5 85.0 C776.6 86.4 776.6 87.7 776.6 89.0 C776.7 90.4 776.7 91.7 776.7 93.0 C776.8 94.4 776.8 95.7 776.8 97.0 C776.9 98.4 776.9 99.7 776.9 101.0 C777.0 102.4 777.0 103.7 777.0 105.0 C777.1 106.4 777.1 107.7 777.2 109.0 C777.2 110.4 777.2 111.7 777.3 113.0 C777.3 114.4 777.4 115.7 777.4 117.0 C777.5 118.4 777.5 119.7 777.6 121.0 C777.6 122.4 777.7 123.7 777.7 125.0 C777.7 126.4 777.8 127.7 777.8 129.0 C777.9 130.4 777.9 131.7 778.0 133.0 C778.0 134.4 778.1 135.5 778.1 137.0 C778.2 138.6 778.3 141.5 778.3 142.4" stroke="#00008f"/>
<path d="M779.1 166.7 C779.1 167.4 779.2 169.7 779.3 171.1 C779.3 172.5 779.4 173.7 779.4 175.1 C779.5 176.4 779.5 177.7 779.6 179.1 C779.6 180.4 779.7 181.7 779.7 183.1 C779.8 184.4 779.8 185.7 779.9 187.1 C779.9 188.4 780.0 189.7 780.0 191.1 C780.1 192.4 780.1 193.7 780.2 195.1 C780.2 196.4 780.3 197.7 780.3 199.1 C780.3 200.4 780.4 201.7 780.4 203.1 C780.5 204.4 780.5 205.7 780.6 207.1 C780.6 208.4 780.7 209.7 780.7 211.1 C780.8 212.4 780.8 213.7 780.9 215.1 C780.9 216.4 781.0 217.7 781.0 219.1 C781.1 220.4 781.1 221.7 781.2 223.1 C781.2 224.4 781.3 225.7 781.3 227.1 C781.4 228.4 781.4 229.7 781.5 231.1 C781.5 232.4 781.6 233.7 781.7 235.1 C781.7 236.4 781.8 237.7 781.9 239.1 C781.9 240.4 782.0 241.7 782.1 243.1 C782.2 244.4 782.3 245.7 782.4 247.1 C782.5 248.4 782.6 249.7 782.7 251.1 C782.8 252.4 782.9 253.7 783.0 255.0 C783.1 256.4 783.2 257.7 783.3 259.0 C783.4 260.4 783.5 261.7 783.6 263.0 C783.7 264.4 783.8 265.7 784.0 267.0 C784.1 268.3 784.2 269.7 784.3 271.0 C784.4 272.3 784.5 273.7 784.6 275.0 C784.7 276.3 784.8 277.7 784.9 279.0 C785.1 280.3 785.2 281.6 785.3 283.0 C785.5 284.3 785.6 285.6 785.7 287.0 C785.9 288.3 786.0 289.6 786.2 290.9 C786.3 292.3 786.5 293.6 786.6 294.9 C786.8 296.2 786.9 297.6 787.1 298.9 C787.2 300.2 787.3 301.5 787.5 302.9 C787.6 304.2 787.8 305.5 787.9 306.8 C788.1 308.2 788.2 309.5 788.4 310.8 C788.5 312.2 788.7 313.5 788.8 314.8 C789.0 316.1 789.1 317.5 789.3 318.8 C789.4 320.1 789.6 321.4 789.7 322.8 C789.9 324.1 790.0 325.4 790.1 326.7 C790.3 328.1 790.4 329.4 790.6 330.7 C790.7 332.1 790.8 333.4 791.0 334.7 C791.1 336.0 791.2 337.4 791.4 338.7 C791.5 340.0 791.6 341.3 791.8 342.7 C791.9 344.0 792.0 345.3 792.2 346.7 C792.3 348.0 792.4 349.3 792.6 350.6 C792.7 352.0 792.8 353.3 793.0 354.6 C793.1 356.0 793.2 357.3 793.4 358.6 C793.5 359.9 793.6 361.3 793.8 362.6 C793.9 363.9 794.0 365.3 794.2 366.6 C794.3 367.8 794.4 369.4 794.5 370.0" stroke="#00008f"/>
<path d="M796.3 386.6 C796.5 387.4 796.9 389.9 797.3 391.4 C797.6 392.8 797.9 394.0 798.2 395.2 C798.5 396.5 798.8 397.8 799.2 399.1 C799.5 400.4 799.8 401.7 800.2 403.0 C800.5 404.3 800.8 405.6 801.2 406.9 C801.5 408.2 801.9 409.4 802.3 410.7 C802.7 412.0 803.1 413.2 803.6 414.5 C804.0 415.8 804.5 417.0 804.9 418.3 C805.4 419.5 805.9 420.8 806.4 422.0 C806.8 423.2 807.3 424.5 807.8 425.7 C808.3 427.0 808.8 428.2 809.3 429.5 C809.7 430.7 810.2 432.0 810.7 433.2 C811.2 434.4 811.7 435.7 812.2 436.9 C812.7 438.2 813.2 439.4 813.7 440.6 C814.2 441.9 814.7 443.1 815.2 444.3 C815.8 445.5 816.3 446.8 816.8 448.0 C817.4 449.2 817.9 450.4 818.5 451.7 C819.0 452.9 819.5 454.1 820.1 455.3 C820.6 456.5 821.2 457.7 821.7 459.0 C822.3 460.2 822.8 461.4 823.4 462.6 C824.0 463.8 824.5 465.0 825.1 466.2 C825.6 467.4 826.2 468.7 826.8 469.9 C827.3 471.1 827.9 472.3 828.5 473.4 C829.1 474.6 829.7 475.8 830.4 476.9 C831.1 478.0 831.8 479.1 832.7 480.1 C833.5 481.1 834.4 482.1 835.3 483.0 C836.2 484.0 837.2 484.8 838.2 485.7 C839.2 486.6 840.2 487.5 841.3 488.3 C842.3 489.2 843.3 490.1 844.3 490.9 C845.4 491.7 846.4 492.6 847.5 493.3 C848.6 494.1 849.6 494.9 850.8 495.6 C851.9 496.4 853.0 497.1 854.1 497.8 C855.3 498.5 856.4 499.2 857.5 499.8 C858.7 500.5 859.8 501.2 861.0 501.9 C862.1 502.6 863.3 503.2 864.5 503.9 C865.6 504.6 866.8 505.2 868.0 505.8 C869.1 506.5 870.3 507.1 871.5 507.7 C872.7 508.3 873.9 508.9 875.1 509.5 C876.3 510.1 877.5 510.6 878.7 511.2 C879.9 511.8 881.1 512.4 882.3 513.0 C883.5 513.6 884.7 514.2 885.9 514.8 C887.1 515.3 888.3 515.9 889.5 516.5 C890.7 517.1 892.0 517.7 893.1 518.2 C894.2 518.6 895.4 519.1 895.8 519.3" stroke="#00008f"/>
<path d="M912.6 524.2 C913.4 524.4 915.6 524.9 917.0 525.3 C918.4 525.6 919.6 525.9 920.9 526.2 C922.2 526.5 923.5 526.7 924.8 527.0 C926.1 527.3 927.4 527.6 928.7 527.9 C930.0 528.2 931.3 528.5 932.6 528.8 C933.9 529.1 935.3 529.4 936.6 529.7 C937.9 529.9 939.2 530.2 940.5 530.5 C941.8 530.8 943.1 531.1 944.4 531.3 C945.7 531.6 947.0 531.8 948.3 532.0 C949.6 532.2 951.0 532.4 952.3 532.6 C953.6 532.8 954.9 532.9 956.2 533.1 C957.6 533.3 958.9 533.4 960.2 533.6 C961.5 533.8 962.9 533.9 964.2 534.1 C965.5 534.3 966.8 534.4 968.2 534.6 C969.5 534.8 970.8 534.9 972.1 535.1 C973.5 535.2 974.8 535.4 976.1 535.6 C977.4 535.7 978.8 535.9 980.1 536.1 C981.4 536.2 982.7 536.4 984.1 536.5 C985.4 536.6 986.7 536.8 988.1 536.9 C989.4 537.0 990.7 537.1 992.0 537.2 C993.4 537.4 994.7 537.5 996.0 537.6 C997.4 537.7 998.7 537.8 1000.0 537.9 C1001.3 538.0 1002.7 538.1 1004.0 538.2 C1005.3 538.3 1006.7 538.5 1008.0 538.6 C1009.3 538.7 1010.7 538.8 1012.0 538.9 C1013.3 539.0 1014.6 539.1 1016.0 539.2 C1017.3 539.3 1018.6 539.5 1020.0 539.6 C1021.3 539.7 1022.6 539.8 1024.0 539.9 C1025.3 540.0 1026.6 540.1 1027.9 540.2 C1029.3 540.3 1030.6 540.4 1031.9 540.5 C1033.3 540.6 1034.6 540.7 1035.9 540.7 C1037.3 540.8 1038.6 540.9 1039.9 541.0 C1041.3 541.1 1042.6 541.1 1043.9 541.2 C1045.3 541.3 1046.6 541.4 1047.9 541.5 C1049.3 541.5 1050.6 541.6 1051.9 541.7 C1053.3 541.8 1054.6 541.9 1055.9 541.9 C1057.3 542.0 1058.9 542.1 1059.9 542.2 C1060.9 542.2 1061.7 542.3 1062.1 542.3" stroke="#00008f"/>
<path d="M1080.0 543.2 C1080.8 543.2 1083.4 543.4 1084.9 543.5 C1086.4 543.5 1087.6 543.6 1088.9 543.7 C1090.2 543.7 1091.6 543.8 1092.9 543.9 C1094.2 543.9 1095.6 544.0 1096.9 544.1 C1098.2 544.1 1099.6 544.2 1100.9 544.3 C1102.2 544.4 1103.6 544.4 1104.9 544.5 C1106.2 544.6 1107.6 544.6 1108.9 544.7 C1110.2 544.8 1111.6 544.8 1112.9 544.9 C1114.2 545.0 1115.6 545.1 1116.9 545.1 C1118.2 545.2 1119.6 545.3 1120.9 545.3 C1122.2 545.4 1123.6 545.5 1124.9 545.5 C1126.2 545.6 1127.6 545.7 1128.9 545.7 C1130.2 545.8 1131.6 545.8 1132.9 545.9 C1134.2 545.9 1135.6 546.0 1136.9 546.0 C1138.2 546.0 1139.6 546.1 1140.9 546.1 C1142.2 546.1 1143.6 546.1 1144.9 546.1 C1146.2 546.2 1147.6 546.2 1148.9 546.2 C1150.2 546.2 1151.6 546.2 1152.9 546.2 C1154.2 546.3 1155.6 546.3 1156.9 546.3 C1158.2 546.3 1159.6 546.3 1160.9 546.4 C1162.2 546.4 1163.6 546.4 1164.9 546.4 C1166.2 546.4 1167.6 546.4 1168.9 546.5 C1170.2 546.5 1171.6 546.5 1172.9 546.5 C1174.3 546.5 1175.6 546.5 1176.9 546.6 C1178.3 546.6 1179.6 546.6 1180.9 546.6 C1182.3 546.6 1183.6 546.6 1184.9 546.7 C1186.3 546.7 1187.6 546.7 1188.9 546.7 C1190.3 546.7 1191.6 546.7 1192.9 546.8 C1194.3 546.8 1195.6 546.8 1196.9 546.8 C1198.3 546.8 1199.6 546.8 1200.9 546.8 C1202.3 546.9 1203.6 546.9 1204.9 546.9 C1206.3 546.9 1207.6 546.9 1208.9 546.9 C1210.3 546.9 1211.6 546.9 1213.0 547.0 C1214.3 547.0 1215.6 547.0 1217.0 547.0 C1218.3 547.0 1219.6 547.0 1221.0 547.0 C1222.3 547.0 1223.5 547.0 1225.0 547.1 C1226.4 547.1 1229.0 547.1 1229.8 547.1" stroke="#00008f"/>
<path d="M1244.6 547.3 C1245.3 547.3 1247.6 547.3 1249.0 547.3 C1250.4 547.3 1251.6 547.4 1253.0 547.4 C1254.3 547.4 1255.7 547.4 1257.0 547.4 C1258.3 547.4 1259.7 547.4 1261.0 547.4 C1262.3 547.4 1263.7 547.4 1265.0 547.5 C1266.3 547.5 1268.0 547.5 1269.0 547.5 C1270.0 547.5 1270.7 547.5 1271.0 547.5" stroke="#00008f"/>
<path d="M789.1 44.0 C789.1 44.8 789.3 47.5 789.3 49.0 C789.4 50.5 789.5 51.7 789.5 53.0 C789.6 54.3 789.6 55.7 789.7 57.0 C789.8 58.3 789.8 59.7 789.9 61.0 C790.0 62.3 790.0 63.6 790.1 65.0 C790.1 66.3 790.2 67.6 790.3 69.0 C790.3 70.3 790.4 71.6 790.4 73.0 C790.5 74.3 790.6 75.6 790.6 77.0 C790.7 78.3 790.8 79.6 790.8 81.0 C790.9 82.3 790.9 83.6 791.0 85.0 C791.1 86.3 791.1 87.6 791.2 89.0 C791.3 90.3 791.3 91.6 791.4 92.9 C791.4 94.3 791.5 95.4 791.5 96.9 C791.6 98.5 791.7 101.2 791.7 102.0" stroke="#0000df"/>
<path d="M791.9 129.0 C792.0 129.8 792.1 132.4 792.2 133.9 C792.3 135.4 792.4 136.6 792.5 137.9 C792.6 139.2 792.6 140.6 792.7 141.9 C792.8 143.2 792.9 144.6 793.0 145.9 C793.1 147.2 793.2 148.6 793.3 149.9 C793.4 151.2 793.5 152.5 793.6 153.9 C793.7 155.2 793.8 156.5 793.9 157.9 C794.0 159.2 794.1 160.5 794.2 161.9 C794.3 163.2 794.4 164.5 794.5 165.8 C794.6 167.2 794.7 168.5 794.8 169.8 C794.9 171.2 795.0 172.5 795.1 173.8 C795.2 175.2 795.3 176.5 795.4 177.8 C795.5 179.1 795.6 180.5 795.7 181.8 C795.8 183.1 795.9 184.5 796.0 185.8 C796.1 187.1 796.2 188.4 796.3 189.8 C796.4 191.1 796.5 192.4 796.5 193.8 C796.6 195.1 796.7 196.4 796.8 197.8 C796.9 199.1 797.0 200.4 797.1 201.7 C797.2 203.1 797.3 204.4 797.4 205.7 C797.5 207.1 797.6 208.4 797.7 209.7 C797.8 211.1 797.9 212.4 798.0 213.7 C798.1 215.0 798.2 216.4 798.3 217.7 C798.4 219.0 798.5 220.4 798.6 221.7 C798.7 223.0 798.8 224.4 798.9 225.7 C799.0 227.0 799.1 228.3 799.2 229.7 C799.3 231.0 799.4 232.3 799.5 233.7 C799.6 235.0 799.7 236.3 799.8 237.6 C799.9 239.0 800.0 240.3 800.1 241.6 C800.3 243.0 800.4 244.3 800.5 245.6 C800.6 246.9 800.8 248.3 800.9 249.6 C801.0 250.9 801.1 252.3 801.3 253.6 C801.4 254.9 801.5 256.2 801.7 257.6 C801.8 258.9 801.9 260.2 802.1 261.5 C802.2 262.9 802.3 264.2 802.4 265.5 C802.6 266.9 802.7 268.2 802.8 269.5 C803.0 270.8 803.1 272.2 803.2 273.5 C803.4 274.8 803.5 276.1 803.6 277.5 C803.8 278.8 803.9 280.1 804.1 281.4 C804.2 282.8 804.4 284.1 804.5 285.4 C804.7 286.7 804.9 288.1 805.0 289.4 C805.2 290.7 805.4 292.0 805.5 293.4 C805.7 294.7 805.8 296.0 806.0 297.3 C806.2 298.6 806.3 300.0 806.5 301.3 C806.7 302.6 806.8 303.9 807.0 305.3 C807.2 306.6 807.3 307.9 807.5 309.2 C807.7 310.6 807.8 311.9 808.0 313.2 C808.2 314.5 808.3 315.8 808.5 317.2 C808.7 318.5 808.8 320.1 809.0 321.1 C809.1 322.2 809.2 323.2 809.3 323.6" stroke="#0000df"/>
<path d="M812.6 352.0 C812.7 352.8 813.1 355.4 813.4 356.9 C813.6 358.3 813.9 359.5 814.2 360.8 C814.5 362.1 814.8 363.4 815.1 364.6 C815.5 365.9 815.8 367.2 816.2 368.5 C816.6 369.8 817.0 371.0 817.3 372.3 C817.7 373.6 818.1 374.9 818.5 376.2 C818.8 377.4 819.2 378.7 819.6 380.0 C820.0 381.3 820.4 382.6 820.7 383.8 C821.1 385.1 821.5 386.4 821.9 387.7 C822.3 388.9 822.7 390.2 823.1 391.5 C823.6 392.7 824.0 394.0 824.4 395.3 C824.8 396.5 825.2 397.8 825.7 399.1 C826.1 400.3 826.5 401.6 826.9 402.9 C827.3 404.1 827.8 405.4 828.2 406.6 C828.6 407.9 829.0 409.2 829.5 410.4 C829.9 411.7 830.3 413.0 830.8 414.2 C831.2 415.5 831.7 416.7 832.2 418.0 C832.7 419.2 833.2 420.4 833.7 421.7 C834.2 422.9 834.7 424.1 835.2 425.4 C835.7 426.6 836.3 427.8 836.8 429.0 C837.4 430.2 837.9 431.4 838.5 432.7 C839.0 433.9 839.6 435.1 840.2 436.2 C840.8 437.4 841.4 438.6 842.1 439.8 C842.7 441.0 843.3 442.2 843.9 443.3 C844.6 444.5 845.3 445.6 846.0 446.8 C846.7 447.9 847.4 449.0 848.2 450.1 C849.0 451.1 849.8 452.2 850.6 453.3 C851.4 454.3 852.2 455.4 853.0 456.4 C853.9 457.4 854.7 458.5 855.6 459.5 C856.5 460.5 857.4 461.4 858.3 462.4 C859.2 463.3 860.2 464.3 861.1 465.2 C862.1 466.1 863.1 467.0 864.1 467.9 C865.1 468.8 866.1 469.7 867.0 470.6 C868.0 471.5 869.0 472.4 870.0 473.3 C871.0 474.1 872.0 475.0 873.0 475.9 C874.1 476.8 875.1 477.6 876.1 478.5 C877.1 479.4 878.1 480.2 879.1 481.1 C880.1 482.0 881.1 482.8 882.2 483.7 C883.2 484.6 884.2 485.4 885.2 486.3 C886.2 487.1 887.3 487.9 888.3 488.7 C889.4 489.6 890.5 490.3 891.6 491.1 C892.7 491.8 893.6 492.4 894.9 493.2 C896.3 494.0 898.7 495.4 899.5 495.8" stroke="#0000df"/>
<path d="M920.3 505.2 C921.1 505.5 923.5 506.3 924.9 506.8 C926.3 507.2 927.5 507.5 928.7 507.9 C930.0 508.3 931.3 508.7 932.6 509.0 C933.9 509.4 935.1 509.7 936.4 510.1 C937.7 510.5 939.0 510.8 940.3 511.2 C941.6 511.5 942.9 511.9 944.1 512.2 C945.4 512.6 946.7 512.9 948.0 513.2 C949.3 513.6 950.6 513.9 951.9 514.2 C953.2 514.5 954.5 514.8 955.8 515.1 C957.1 515.4 958.4 515.7 959.7 516.0 C961.0 516.2 962.3 516.5 963.6 516.8 C964.9 517.1 966.2 517.4 967.5 517.7 C968.8 518.0 970.1 518.3 971.4 518.6 C972.7 518.9 974.0 519.2 975.3 519.5 C976.6 519.8 977.9 520.0 979.2 520.3 C980.5 520.6 981.8 520.9 983.1 521.1 C984.4 521.4 985.8 521.6 987.1 521.8 C988.4 522.1 989.7 522.3 991.0 522.5 C992.3 522.7 993.7 522.8 995.0 523.0 C996.3 523.2 997.6 523.4 998.9 523.6 C1000.3 523.8 1001.6 524.0 1002.9 524.2 C1004.2 524.4 1005.5 524.6 1006.9 524.8 C1008.2 524.9 1009.5 525.1 1010.8 525.3 C1012.1 525.5 1013.4 525.7 1014.8 525.9 C1016.1 526.1 1017.4 526.3 1018.7 526.5 C1020.0 526.7 1021.4 526.9 1022.7 527.0 C1024.0 527.2 1025.3 527.4 1026.6 527.6 C1028.0 527.8 1029.3 528.0 1030.6 528.2 C1031.9 528.4 1033.2 528.6 1034.6 528.8 C1035.9 529.0 1037.2 529.2 1038.5 529.3 C1039.8 529.5 1041.2 529.7 1042.5 529.9 C1043.8 530.1 1045.1 530.3 1046.4 530.5 C1047.8 530.7 1049.1 530.9 1050.4 531.1 C1051.7 531.3 1053.0 531.5 1054.4 531.7 C1055.7 531.8 1057.0 532.0 1058.3 532.2 C1059.6 532.3 1061.5 532.5 1062.1 532.6" stroke="#0000df"/>
<path d="M1084.7 533.8 C1085.5 533.9 1087.8 534.0 1089.2 534.1 C1090.7 534.1 1091.9 534.2 1093.2 534.3 C1094.6 534.4 1095.9 534.4 1097.2 534.5 C1098.6 534.6 1099.9 534.7 1101.2 534.7 C1102.6 534.8 1103.9 534.9 1105.2 535.0 C1106.5 535.0 1107.9 535.1 1109.2 535.2 C1110.5 535.3 1111.9 535.3 1113.2 535.4 C1114.5 535.5 1115.9 535.6 1117.2 535.7 C1118.5 535.7 1119.9 535.8 1121.2 535.9 C1122.5 536.0 1123.9 536.0 1125.2 536.1 C1126.5 536.2 1127.8 536.3 1129.2 536.3 C1130.5 536.4 1131.8 536.5 1133.2 536.6 C1134.5 536.7 1135.8 536.7 1137.2 536.8 C1138.5 536.9 1139.8 537.0 1141.2 537.1 C1142.5 537.2 1143.8 537.3 1145.1 537.4 C1146.5 537.5 1147.8 537.6 1149.1 537.6 C1150.5 537.7 1151.8 537.8 1153.1 537.9 C1154.5 538.0 1155.8 538.1 1157.1 538.2 C1158.4 538.3 1159.8 538.4 1161.1 538.5 C1162.4 538.5 1163.8 538.6 1165.1 538.7 C1166.4 538.8 1167.8 538.9 1169.1 539.0 C1170.4 539.1 1171.8 539.2 1173.1 539.3 C1174.4 539.4 1175.7 539.4 1177.1 539.5 C1178.4 539.6 1179.7 539.7 1181.1 539.8 C1182.4 539.9 1183.7 540.0 1185.1 540.1 C1186.4 540.2 1187.7 540.3 1189.0 540.3 C1190.4 540.4 1191.7 540.5 1193.0 540.6 C1194.4 540.7 1195.7 540.7 1197.0 540.8 C1198.4 540.8 1199.7 540.9 1201.0 540.9 C1202.4 541.0 1203.7 541.0 1205.0 541.1 C1206.4 541.1 1207.7 541.1 1209.0 541.2 C1210.4 541.2 1211.7 541.3 1213.0 541.3 C1214.4 541.3 1215.7 541.4 1217.0 541.4 C1218.4 541.5 1219.7 541.5 1221.0 541.5 C1222.4 541.6 1223.5 541.6 1225.0 541.6 C1226.6 541.7 1229.5 541.8 1230.4 541.8" stroke="#0000df"/>
<path d="M1249.3 542.4 C1250.1 542.4 1252.6 542.5 1254.0 542.5 C1255.5 542.6 1256.7 542.6 1258.0 542.6 C1259.3 542.7 1260.7 542.7 1262.0 542.8 C1263.3 542.8 1264.5 542.8 1266.0 542.9 C1267.5 542.9 1270.2 543.0 1271.0 543.0" stroke="#0000df"/>
<path d="M803.9 44.0 C803.9 44.8 804.1 47.5 804.2 49.0 C804.3 50.5 804.3 51.7 804.4 53.0 C804.5 54.3 804.5 55.7 804.6 57.0 C804.7 58.3 804.8 59.7 804.8 61.0 C804.9 62.3 805.0 63.5 805.0 65.0 C805.1 66.4 805.2 68.8 805.3 69.6" stroke="#0030ff"/>
<path d="M806.7 98.0 C806.7 98.8 806.9 101.5 807.0 103.0 C807.1 104.5 807.2 105.6 807.3 106.9 C807.4 108.3 807.5 109.6 807.6 110.9 C807.7 112.3 807.8 113.6 807.9 114.9 C808.0 116.3 808.1 117.6 808.2 118.9 C808.3 120.3 808.4 121.6 808.5 122.9 C808.6 124.2 808.7 125.6 808.8 126.9 C808.9 128.2 809.0 129.6 809.1 130.9 C809.2 132.2 809.3 133.6 809.4 134.9 C809.5 136.2 809.6 137.5 809.7 138.9 C809.8 140.2 809.9 141.5 810.0 142.9 C810.1 144.2 810.2 145.5 810.3 146.9 C810.4 148.2 810.5 149.5 810.6 150.9 C810.7 152.2 810.8 153.5 810.9 154.8 C811.0 156.2 811.1 157.5 811.2 158.8 C811.3 160.2 811.4 161.5 811.5 162.8 C811.6 164.2 811.8 165.5 811.9 166.8 C812.0 168.1 812.1 169.5 812.2 170.8 C812.3 172.1 812.4 173.5 812.5 174.8 C812.6 176.1 812.7 177.5 812.8 178.8 C812.9 180.1 813.0 181.5 813.1 182.8 C813.2 184.1 813.3 185.4 813.4 186.8 C813.5 188.1 813.6 189.4 813.7 190.8 C813.8 192.1 813.9 193.4 814.0 194.8 C814.1 196.1 814.2 197.4 814.3 198.7 C814.4 200.1 814.5 201.4 814.6 202.7 C814.7 204.1 814.8 205.4 814.9 206.7 C815.0 208.1 815.1 209.4 815.2 210.7 C815.3 212.1 815.4 213.4 815.5 214.7 C815.6 216.0 815.7 217.4 815.8 218.7 C815.9 220.0 816.0 221.4 816.1 222.7 C816.2 224.0 816.3 225.4 816.4 226.7 C816.5 228.0 816.6 229.3 816.7 230.7 C816.8 232.0 816.9 233.3 817.0 234.7 C817.1 236.0 817.3 237.3 817.4 238.7 C817.5 240.0 817.6 241.3 817.7 242.6 C817.9 244.0 818.0 245.3 818.1 246.6 C818.3 248.0 818.4 249.3 818.5 250.6 C818.7 251.9 818.8 253.3 818.9 254.6 C819.1 255.9 819.2 257.2 819.3 258.6 C819.5 259.9 819.6 261.2 819.7 262.6 C819.9 263.9 820.0 265.2 820.1 266.5 C820.3 267.9 820.4 269.2 820.6 270.5 C820.7 271.8 820.8 273.2 821.0 274.5 C821.1 275.8 821.2 277.2 821.4 278.5 C821.5 279.8 821.6 281.1 821.8 282.5 C821.9 283.8 822.0 285.1 822.2 286.4 C822.3 287.8 822.5 289.4 822.7 290.4 C822.8 291.4 822.9 292.2 823.0 292.6" stroke="#0030ff"/>
<path d="M828.0 321.5 C828.1 322.2 828.5 324.5 828.8 325.9 C829.0 327.3 829.2 328.5 829.5 329.9 C829.7 331.2 829.9 332.5 830.1 333.8 C830.4 335.1 830.6 336.4 830.8 337.7 C831.1 339.1 831.3 340.4 831.5 341.7 C831.7 343.0 832.0 344.3 832.2 345.6 C832.4 346.9 832.7 348.3 832.9 349.6 C833.1 350.9 833.4 352.2 833.6 353.5 C833.9 354.8 834.1 356.1 834.4 357.4 C834.7 358.7 835.1 360.0 835.5 361.3 C835.8 362.5 836.3 363.8 836.7 365.0 C837.2 366.3 837.6 367.5 838.1 368.8 C838.6 370.0 839.1 371.3 839.5 372.5 C840.0 373.8 840.5 375.0 841.0 376.3 C841.5 377.5 842.0 378.7 842.5 380.0 C843.0 381.2 843.6 382.4 844.1 383.6 C844.6 384.9 845.2 386.1 845.7 387.3 C846.3 388.5 846.9 389.7 847.4 390.9 C848.0 392.1 848.5 393.3 849.1 394.5 C849.7 395.8 850.2 397.0 850.8 398.2 C851.4 399.4 851.9 400.6 852.5 401.8 C853.1 403.0 853.6 404.2 854.2 405.4 C854.8 406.6 855.4 407.8 855.9 409.0 C856.5 410.2 857.1 411.4 857.7 412.6 C858.3 413.8 858.9 415.0 859.5 416.2 C860.0 417.4 860.6 418.6 861.2 419.8 C861.8 421.0 862.4 422.2 863.0 423.4 C863.6 424.6 864.2 425.8 864.7 427.0 C865.3 428.2 865.9 429.4 866.5 430.6 C867.1 431.8 867.8 432.9 868.4 434.1 C869.1 435.2 869.8 436.4 870.5 437.5 C871.3 438.5 872.1 439.6 872.9 440.6 C873.7 441.7 874.6 442.6 875.5 443.6 C876.4 444.6 877.3 445.6 878.2 446.6 C879.1 447.6 880.0 448.6 880.9 449.6 C881.8 450.5 882.7 451.5 883.6 452.5 C884.5 453.5 885.4 454.5 886.3 455.4 C887.2 456.4 888.1 457.4 889.1 458.3 C890.0 459.3 891.0 460.2 891.9 461.1 C892.9 462.1 893.9 463.0 894.8 463.9 C895.8 464.8 896.8 465.7 897.8 466.6 C898.8 467.5 899.8 468.4 900.8 469.3 C901.8 470.1 902.6 470.9 903.8 471.9 C904.9 472.9 907.1 474.5 907.8 475.0" stroke="#0030ff"/>
<path d="M927.8 486.4 C928.5 486.7 930.8 487.8 932.2 488.3 C933.5 488.9 934.7 489.4 935.9 489.9 C937.1 490.4 938.4 490.9 939.6 491.4 C940.8 491.9 942.1 492.3 943.3 492.8 C944.6 493.3 945.8 493.8 947.0 494.3 C948.3 494.8 949.5 495.3 950.8 495.8 C952.0 496.3 953.3 496.7 954.5 497.2 C955.8 497.6 957.0 498.1 958.3 498.5 C959.6 498.9 960.8 499.3 962.1 499.7 C963.4 500.1 964.7 500.5 965.9 500.9 C967.2 501.3 968.5 501.6 969.8 502.0 C971.0 502.4 972.3 502.8 973.6 503.2 C974.9 503.5 976.2 503.9 977.4 504.3 C978.7 504.7 980.0 505.1 981.3 505.5 C982.6 505.8 983.8 506.2 985.1 506.6 C986.4 507.0 987.7 507.4 989.0 507.7 C990.2 508.1 991.5 508.4 992.8 508.8 C994.1 509.1 995.4 509.4 996.7 509.7 C998.0 510.0 999.3 510.3 1000.6 510.6 C1001.9 510.9 1003.2 511.2 1004.5 511.4 C1005.8 511.7 1007.1 512.0 1008.4 512.3 C1009.7 512.5 1011.0 512.8 1012.3 513.1 C1013.7 513.4 1015.0 513.6 1016.3 513.9 C1017.6 514.2 1018.9 514.5 1020.2 514.7 C1021.5 515.0 1022.8 515.3 1024.1 515.6 C1025.4 515.8 1026.7 516.1 1028.0 516.4 C1029.3 516.6 1030.6 516.9 1031.9 517.1 C1033.3 517.4 1034.6 517.6 1035.9 517.9 C1037.2 518.1 1038.5 518.4 1039.8 518.6 C1041.1 518.9 1042.4 519.1 1043.8 519.3 C1045.1 519.6 1046.4 519.8 1047.7 520.1 C1049.0 520.3 1050.3 520.5 1051.6 520.8 C1052.9 521.0 1054.2 521.3 1055.6 521.5 C1056.9 521.7 1058.2 522.0 1059.5 522.2 C1060.8 522.4 1062.4 522.7 1063.4 522.9 C1064.5 523.1 1065.4 523.2 1065.8 523.2" stroke="#0030ff"/>
<path d="M1092.3 526.2 C1093.1 526.3 1095.8 526.5 1097.2 526.6 C1098.7 526.8 1099.9 526.9 1101.2 527.0 C1102.6 527.1 1103.9 527.3 1105.2 527.4 C1106.5 527.5 1107.9 527.6 1109.2 527.7 C1110.5 527.9 1111.9 528.0 1113.2 528.1 C1114.5 528.2 1115.8 528.4 1117.2 528.5 C1118.5 528.6 1119.8 528.7 1121.2 528.8 C1122.5 529.0 1123.8 529.1 1125.2 529.2 C1126.5 529.3 1127.8 529.4 1129.1 529.6 C1130.5 529.7 1131.8 529.8 1133.1 529.9 C1134.5 530.0 1135.8 530.1 1137.1 530.2 C1138.4 530.3 1139.8 530.4 1141.1 530.5 C1142.4 530.6 1143.8 530.7 1145.1 530.8 C1146.4 530.9 1147.8 530.9 1149.1 531.0 C1150.4 531.1 1151.8 531.2 1153.1 531.3 C1154.4 531.4 1155.8 531.5 1157.1 531.6 C1158.4 531.7 1159.7 531.8 1161.1 531.9 C1162.4 531.9 1163.7 532.0 1165.1 532.1 C1166.4 532.2 1167.7 532.3 1169.1 532.4 C1170.4 532.5 1171.7 532.6 1173.1 532.7 C1174.4 532.8 1175.7 532.8 1177.1 532.9 C1178.4 533.0 1179.7 533.1 1181.0 533.2 C1182.4 533.3 1183.7 533.4 1185.0 533.5 C1186.4 533.6 1187.7 533.7 1189.0 533.7 C1190.4 533.8 1191.7 533.9 1193.0 534.0 C1194.4 534.1 1195.7 534.2 1197.0 534.2 C1198.4 534.3 1199.7 534.4 1201.0 534.4 C1202.4 534.5 1203.7 534.5 1205.0 534.6 C1206.4 534.7 1207.7 534.7 1209.0 534.8 C1210.4 534.8 1211.7 534.9 1213.0 534.9 C1214.4 535.0 1215.7 535.0 1217.0 535.1 C1218.3 535.2 1219.7 535.2 1221.0 535.3 C1222.3 535.3 1223.7 535.4 1225.0 535.4 C1226.3 535.5 1227.7 535.6 1229.0 535.6 C1230.3 535.7 1231.9 535.7 1233.0 535.8 C1234.1 535.8 1235.3 535.9 1235.8 535.9" stroke="#0030ff"/>
<path d="M1254.7 536.9 C1255.4 536.9 1257.6 537.0 1259.0 537.0 C1260.4 537.1 1261.7 537.2 1263.0 537.2 C1264.3 537.3 1265.7 537.3 1267.0 537.4 C1268.3 537.4 1270.3 537.5 1271.0 537.5" stroke="#0030ff"/>
<path d="M830.9 54.0 C831.0 54.8 831.2 57.5 831.4 59.0 C831.5 60.5 831.7 61.6 831.8 63.0 C831.9 64.3 832.1 65.6 832.2 67.0 C832.3 68.3 832.5 69.6 832.6 70.9 C832.7 72.3 832.9 73.6 833.0 74.9 C833.1 76.2 833.3 77.6 833.4 78.9 C833.5 80.2 833.7 81.6 833.8 82.9 C833.9 84.2 834.1 85.5 834.2 86.9 C834.3 88.2 834.5 89.5 834.6 90.9 C834.7 92.2 834.9 93.5 835.0 94.8 C835.1 96.2 835.3 97.5 835.4 98.8 C835.5 100.2 835.7 101.5 835.8 102.8 C835.9 104.1 836.1 105.5 836.2 106.8 C836.3 108.1 836.5 109.5 836.6 110.8 C836.7 112.1 836.9 113.4 837.0 114.8 C837.1 116.1 837.2 117.4 837.4 118.8 C837.5 120.1 837.6 121.4 837.7 122.7 C837.8 124.1 837.9 125.4 838.0 126.7 C838.1 128.1 838.2 129.4 838.3 130.7 C838.4 132.1 838.5 133.4 838.6 134.7 C838.7 136.1 838.8 137.4 838.9 138.7 C839.0 140.0 839.1 141.4 839.2 142.7 C839.3 144.0 839.4 145.4 839.5 146.7 C839.6 148.0 839.7 149.4 839.8 150.7 C839.9 152.0 840.0 153.4 840.1 154.7 C840.2 156.0 840.3 157.4 840.4 158.7 C840.5 160.0 840.6 161.3 840.7 162.7 C840.8 164.0 840.9 165.3 841.0 166.7 C841.1 168.0 841.2 169.3 841.3 170.7 C841.4 172.0 841.5 173.3 841.6 174.7 C841.7 176.0 841.8 177.3 841.9 178.6 C842.0 180.0 842.1 181.3 842.2 182.6 C842.3 184.0 842.4 185.3 842.5 186.6 C842.6 188.0 842.7 189.3 842.8 190.6 C842.9 192.0 843.0 193.3 843.1 194.6 C843.2 196.0 843.3 197.3 843.4 198.6 C843.5 199.9 843.6 201.3 843.7 202.6 C843.8 203.9 843.9 205.3 844.0 206.6 C844.1 207.9 844.2 209.3 844.3 210.6 C844.4 211.9 844.5 213.3 844.6 214.6 C844.7 215.9 844.8 217.3 844.9 218.6 C845.0 219.9 845.1 221.2 845.2 222.6 C845.4 223.9 845.5 225.2 845.6 226.6 C845.7 227.9 845.8 229.2 845.9 230.6 C846.1 231.9 846.2 233.2 846.3 234.5 C846.4 235.9 846.5 237.2 846.7 238.5 C846.8 239.9 846.9 240.9 847.1 242.5 C847.2 244.1 847.6 247.1 847.7 248.0" stroke="#00bfff"/>
<path d="M853.8 277.7 C854.0 278.4 854.5 280.4 854.8 281.8 C855.1 283.1 855.4 284.4 855.7 285.7 C856.0 287.0 856.3 288.3 856.6 289.6 C856.9 290.9 857.2 292.2 857.5 293.5 C857.8 294.8 858.1 296.1 858.4 297.4 C858.8 298.7 859.1 300.0 859.4 301.3 C859.7 302.6 860.0 303.9 860.3 305.2 C860.6 306.5 860.9 307.8 861.2 309.1 C861.5 310.4 861.8 311.7 862.1 312.9 C862.4 314.2 862.7 315.5 863.1 316.8 C863.4 318.1 863.7 319.4 864.0 320.7 C864.3 322.0 864.6 323.3 864.9 324.6 C865.3 325.9 865.6 327.2 866.0 328.5 C866.3 329.8 866.7 331.1 867.1 332.3 C867.5 333.6 867.9 334.9 868.4 336.1 C868.8 337.4 869.2 338.7 869.6 339.9 C870.1 341.2 870.5 342.5 870.9 343.7 C871.3 345.0 871.8 346.2 872.2 347.5 C872.6 348.8 873.1 350.0 873.5 351.3 C873.9 352.6 874.3 353.8 874.8 355.1 C875.2 356.4 875.6 357.6 876.1 358.9 C876.5 360.2 876.9 361.4 877.3 362.7 C877.8 364.0 878.2 365.2 878.6 366.5 C879.1 367.7 879.5 369.0 879.9 370.3 C880.3 371.5 880.8 372.8 881.2 374.0 C881.7 375.3 882.2 376.5 882.7 377.8 C883.2 379.0 883.7 380.2 884.3 381.4 C884.9 382.6 885.6 383.7 886.2 384.9 C886.9 386.1 887.5 387.2 888.2 388.4 C888.9 389.5 889.6 390.7 890.3 391.8 C890.9 393.0 891.6 394.1 892.3 395.3 C892.9 396.4 893.6 397.6 894.3 398.8 C894.9 399.9 895.5 401.1 896.2 402.3 C896.8 403.4 897.5 404.6 898.1 405.8 C898.8 406.9 899.4 408.1 900.1 409.3 C900.7 410.4 901.4 411.6 902.1 412.7 C902.7 413.9 903.4 415.0 904.1 416.1 C904.8 417.3 905.6 418.4 906.3 419.5 C907.0 420.6 907.8 421.7 908.6 422.8 C909.3 423.9 910.1 425.0 910.9 426.1 C911.7 427.1 912.5 428.2 913.4 429.2 C914.2 430.2 915.1 431.2 916.0 432.1 C917.0 433.1 917.9 434.1 918.8 435.0 C919.8 436.0 920.7 436.9 921.7 437.8 C922.6 438.8 923.6 439.8 924.5 440.6 C925.4 441.5 926.6 442.6 927.0 443.0" stroke="#00bfff"/>
<path d="M944.8 458.3 C945.4 458.7 947.0 459.9 948.1 460.7 C949.2 461.5 950.3 462.2 951.4 463.0 C952.5 463.7 953.6 464.5 954.7 465.2 C955.9 466.0 957.0 466.7 958.1 467.4 C959.2 468.1 960.3 468.9 961.5 469.6 C962.6 470.2 963.8 470.9 964.9 471.6 C966.1 472.3 967.2 472.9 968.4 473.6 C969.5 474.3 970.7 474.9 971.9 475.5 C973.1 476.2 974.3 476.8 975.5 477.3 C976.7 477.9 977.9 478.5 979.1 479.0 C980.3 479.5 981.6 480.0 982.8 480.5 C984.0 481.0 985.3 481.4 986.5 481.9 C987.8 482.4 989.0 482.8 990.3 483.3 C991.5 483.8 992.8 484.2 994.1 484.6 C995.3 485.1 996.6 485.5 997.9 485.9 C999.1 486.3 1000.4 486.8 1001.7 487.2 C1002.9 487.6 1004.2 488.0 1005.5 488.4 C1006.7 488.8 1008.0 489.2 1009.3 489.6 C1010.6 490.0 1011.8 490.4 1013.1 490.8 C1014.4 491.2 1015.7 491.6 1016.9 492.0 C1018.2 492.4 1019.5 492.8 1020.8 493.2 C1022.0 493.6 1023.3 493.9 1024.6 494.3 C1025.9 494.7 1027.2 495.1 1028.4 495.5 C1029.7 495.8 1031.0 496.2 1032.3 496.5 C1033.6 496.9 1034.9 497.2 1036.2 497.6 C1037.5 497.9 1038.8 498.2 1040.0 498.5 C1041.3 498.9 1042.6 499.2 1043.9 499.5 C1045.2 499.9 1046.5 500.2 1047.8 500.5 C1049.1 500.8 1050.4 501.2 1051.7 501.5 C1053.0 501.8 1054.3 502.1 1055.6 502.5 C1056.9 502.8 1058.2 503.1 1059.5 503.4 C1060.8 503.8 1062.1 504.1 1063.3 504.4 C1064.6 504.7 1065.9 505.1 1067.2 505.4 C1068.5 505.7 1069.8 506.0 1071.1 506.3 C1072.5 506.6 1074.6 507.1 1075.3 507.2" stroke="#00bfff"/>
<path d="M1103.6 512.1 C1104.3 512.2 1106.3 512.5 1107.6 512.7 C1108.9 512.9 1110.2 513.1 1111.6 513.3 C1112.9 513.5 1114.2 513.7 1115.5 514.0 C1116.8 514.2 1118.1 514.4 1119.5 514.6 C1120.8 514.8 1122.1 515.0 1123.4 515.2 C1124.7 515.4 1126.1 515.6 1127.4 515.8 C1128.7 516.0 1130.0 516.2 1131.3 516.4 C1132.7 516.6 1134.0 516.7 1135.3 516.9 C1136.6 517.1 1138.0 517.2 1139.3 517.4 C1140.6 517.5 1141.9 517.6 1143.3 517.8 C1144.6 517.9 1145.9 518.1 1147.3 518.2 C1148.6 518.4 1149.9 518.5 1151.2 518.6 C1152.6 518.8 1153.9 518.9 1155.2 519.0 C1156.5 519.2 1157.9 519.3 1159.2 519.5 C1160.5 519.6 1161.9 519.7 1163.2 519.9 C1164.5 520.0 1165.8 520.1 1167.2 520.3 C1168.5 520.4 1169.8 520.5 1171.2 520.6 C1172.5 520.7 1173.8 520.8 1175.2 520.9 C1176.5 521.0 1177.8 521.1 1179.1 521.2 C1180.5 521.3 1181.8 521.3 1183.1 521.4 C1184.5 521.5 1185.8 521.6 1187.1 521.7 C1188.5 521.8 1189.8 521.8 1191.1 521.9 C1192.5 522.0 1193.8 522.1 1195.1 522.2 C1196.5 522.3 1197.8 522.4 1199.1 522.5 C1200.5 522.6 1201.8 522.7 1203.1 522.8 C1204.5 522.9 1205.8 523.0 1207.1 523.1 C1208.4 523.2 1209.8 523.3 1211.1 523.4 C1212.4 523.5 1213.8 523.6 1215.1 523.7 C1216.4 523.8 1217.8 523.9 1219.1 524.0 C1220.4 524.1 1221.8 524.2 1223.1 524.3 C1224.4 524.4 1225.7 524.5 1227.1 524.6 C1228.4 524.7 1229.7 524.8 1231.1 524.9 C1232.4 525.0 1233.7 525.1 1235.1 525.2 C1236.4 525.3 1237.7 525.4 1239.1 525.5 C1240.4 525.6 1241.7 525.7 1243.1 525.8 C1244.4 525.9 1245.7 526.1 1247.0 526.2 C1248.4 526.3 1249.7 526.4 1251.0 526.5 C1252.4 526.6 1253.7 526.7 1255.0 526.8 C1256.4 526.9 1257.7 527.0 1259.0 527.1 C1260.4 527.2 1261.7 527.3 1263.0 527.4 C1264.3 527.5 1265.7 527.6 1267.0 527.7 C1268.3 527.8 1270.3 527.9 1271.0 528.0" stroke="#00bfff"/>
<path d="M864.6 44.0 C864.7 44.8 864.9 47.5 865.0 49.0 C865.1 50.5 865.2 51.7 865.3 53.0 C865.4 54.3 865.5 55.6 865.6 57.0 C865.7 58.3 865.8 59.6 865.9 61.0 C866.0 62.3 866.1 63.6 866.2 65.0 C866.3 66.3 866.4 67.6 866.5 69.0 C866.6 70.3 866.6 71.6 866.7 72.9 C866.8 74.3 866.9 75.6 867.0 76.9 C867.1 78.3 867.2 79.6 867.3 80.9 C867.4 82.3 867.5 83.6 867.6 84.9 C867.7 86.3 867.8 87.6 867.9 88.9 C868.0 90.2 868.1 91.6 868.2 92.9 C868.3 94.2 868.4 95.6 868.5 96.9 C868.6 98.2 868.7 99.6 868.8 100.9 C868.9 102.2 869.0 103.6 869.1 104.9 C869.2 106.2 869.3 107.5 869.4 108.9 C869.5 110.2 869.6 111.5 869.7 112.9 C869.8 114.2 869.9 115.5 870.0 116.9 C870.1 118.2 870.2 119.5 870.3 120.8 C870.4 122.2 870.5 123.5 870.6 124.8 C870.7 126.2 870.8 127.3 870.9 128.8 C871.0 130.4 871.3 133.4 871.4 134.3" stroke="#50ffaf"/>
<path d="M876.7 176.1 C876.8 176.8 877.0 179.1 877.2 180.5 C877.4 181.9 877.5 183.1 877.7 184.5 C877.8 185.8 878.0 187.1 878.1 188.4 C878.3 189.8 878.4 191.1 878.6 192.4 C878.7 193.7 878.9 195.1 879.0 196.4 C879.2 197.7 879.3 199.0 879.5 200.4 C879.6 201.7 879.8 203.0 879.9 204.3 C880.1 205.7 880.2 207.0 880.4 208.3 C880.5 209.7 880.7 211.0 880.8 212.3 C881.0 213.6 881.1 215.0 881.3 216.3 C881.4 217.6 881.6 218.9 881.7 220.3 C881.9 221.6 882.0 222.9 882.2 224.2 C882.4 225.6 882.5 226.9 882.7 228.2 C882.8 229.5 883.0 230.9 883.1 232.2 C883.3 233.5 883.5 234.8 883.7 236.1 C883.9 237.5 884.1 238.8 884.4 240.1 C884.7 241.4 885.0 242.7 885.3 243.9 C885.7 245.2 886.0 246.5 886.4 247.8 C886.8 249.1 887.2 250.3 887.6 251.6 C888.0 252.9 888.4 254.2 888.8 255.4 C889.1 256.7 889.5 258.0 889.9 259.3 C890.3 260.5 890.7 261.8 891.1 263.1 C891.4 264.4 891.8 265.7 892.2 267.0 C892.5 268.2 892.9 269.5 893.2 270.8 C893.5 272.1 893.9 273.4 894.2 274.7 C894.5 276.0 894.8 277.3 895.2 278.6 C895.5 279.9 895.8 281.2 896.1 282.5 C896.5 283.8 896.8 285.1 897.1 286.3 C897.4 287.6 897.8 288.9 898.1 290.2 C898.4 291.5 898.7 292.8 899.1 294.1 C899.4 295.4 899.7 296.7 900.0 298.0 C900.4 299.3 900.7 300.6 901.0 301.9 C901.4 303.2 901.7 304.4 902.1 305.7 C902.5 307.0 902.9 308.3 903.3 309.5 C903.7 310.8 904.1 312.1 904.6 313.3 C905.0 314.6 905.5 315.8 905.9 317.1 C906.4 318.4 906.8 319.6 907.3 320.9 C907.7 322.1 908.2 323.4 908.6 324.6 C909.1 325.9 909.5 327.2 910.0 328.4 C910.4 329.7 910.9 330.9 911.3 332.2 C911.8 333.4 912.3 334.7 912.8 335.9 C913.3 337.1 913.8 338.4 914.3 339.6 C914.8 340.8 915.3 342.1 915.8 343.3 C916.4 344.5 916.9 345.8 917.4 347.0 C917.9 348.2 918.4 349.4 919.0 350.7 C919.5 351.9 920.0 353.1 920.5 354.3 C921.1 355.6 921.6 356.9 922.1 358.0 C922.6 359.2 923.3 360.7 923.5 361.3" stroke="#50ffaf"/>
<path d="M933.7 383.0 C934.1 383.7 935.2 385.6 936.0 386.8 C936.7 388.0 937.5 389.0 938.2 390.1 C938.9 391.3 939.7 392.4 940.4 393.5 C941.2 394.6 942.0 395.7 942.7 396.8 C943.5 397.9 944.2 398.9 945.0 400.0 C945.8 401.1 946.5 402.2 947.3 403.3 C948.1 404.4 948.9 405.5 949.7 406.5 C950.5 407.6 951.3 408.6 952.1 409.7 C952.9 410.8 953.8 411.8 954.6 412.9 C955.4 413.9 956.2 414.9 957.1 416.0 C957.9 417.0 958.8 418.0 959.7 419.0 C960.5 420.0 961.4 421.0 962.4 422.0 C963.3 422.9 964.2 423.9 965.2 424.8 C966.2 425.7 967.1 426.6 968.1 427.5 C969.1 428.4 970.1 429.3 971.1 430.2 C972.1 431.1 973.1 432.0 974.1 432.9 C975.1 433.7 976.1 434.6 977.2 435.4 C978.2 436.2 979.2 437.1 980.3 437.9 C981.3 438.7 982.4 439.5 983.5 440.3 C984.5 441.1 985.6 442.0 986.7 442.8 C987.7 443.6 988.8 444.4 989.9 445.1 C991.0 445.9 992.0 446.7 993.2 447.4 C994.3 448.1 995.4 448.8 996.5 449.5 C997.7 450.2 998.8 450.9 1000.0 451.5 C1001.1 452.2 1002.3 452.9 1003.5 453.5 C1004.6 454.2 1005.8 454.8 1007.0 455.4 C1008.1 456.1 1009.3 456.7 1010.5 457.3 C1011.7 458.0 1012.9 458.6 1014.1 459.2 C1015.2 459.8 1016.4 460.4 1017.6 461.0 C1018.8 461.6 1020.0 462.2 1021.2 462.8 C1022.4 463.4 1023.6 464.0 1024.8 464.6 C1026.0 465.1 1027.2 465.7 1028.4 466.3 C1029.6 466.9 1030.8 467.5 1032.0 468.1 C1033.2 468.6 1034.4 469.2 1035.6 469.7 C1036.8 470.3 1038.1 470.8 1039.3 471.4 C1040.5 471.9 1041.7 472.4 1043.0 472.9 C1044.2 473.5 1045.7 474.1 1046.6 474.5 C1047.6 474.9 1048.2 475.1 1048.6 475.2" stroke="#50ffaf"/>
<path d="M1079.3 485.7 C1080.0 485.9 1082.3 486.5 1083.6 486.8 C1085.0 487.2 1086.2 487.4 1087.5 487.7 C1088.8 488.0 1090.1 488.3 1091.4 488.6 C1092.7 488.9 1094.0 489.2 1095.3 489.5 C1096.6 489.8 1097.9 490.1 1099.3 490.4 C1100.6 490.6 1101.9 490.9 1103.2 491.2 C1104.5 491.5 1105.8 491.8 1107.1 492.1 C1108.4 492.4 1109.7 492.7 1111.0 493.0 C1112.3 493.3 1113.6 493.5 1114.9 493.8 C1116.2 494.1 1117.5 494.4 1118.8 494.7 C1120.1 495.0 1121.4 495.3 1122.7 495.6 C1124.0 495.9 1125.3 496.2 1126.6 496.4 C1127.9 496.7 1129.2 497.0 1130.5 497.3 C1131.8 497.6 1133.1 497.9 1134.4 498.2 C1135.7 498.5 1137.0 498.8 1138.3 499.1 C1139.6 499.4 1140.9 499.7 1142.2 499.9 C1143.5 500.2 1144.8 500.5 1146.1 500.8 C1147.4 501.1 1148.8 501.3 1150.1 501.6 C1151.4 501.8 1152.7 502.1 1154.0 502.3 C1155.3 502.6 1156.6 502.8 1157.9 503.0 C1159.3 503.2 1160.6 503.4 1161.9 503.7 C1163.2 503.9 1164.5 504.1 1165.8 504.3 C1167.2 504.5 1168.5 504.7 1169.8 504.9 C1171.1 505.2 1172.4 505.4 1173.7 505.6 C1175.1 505.8 1176.4 506.0 1177.7 506.2 C1179.0 506.5 1180.3 506.7 1181.6 506.9 C1183.0 507.1 1184.3 507.3 1185.6 507.5 C1186.9 507.8 1188.2 508.0 1189.5 508.2 C1190.9 508.4 1192.2 508.6 1193.5 508.9 C1194.8 509.1 1196.1 509.3 1197.4 509.6 C1198.7 509.8 1200.0 510.1 1201.4 510.4 C1202.7 510.6 1204.0 510.9 1205.3 511.1 C1206.6 511.4 1207.9 511.7 1209.2 511.9 C1210.5 512.2 1211.8 512.4 1213.1 512.7 C1214.4 512.9 1216.3 513.2 1216.9 513.3" stroke="#50ffaf"/>
<path d="M1244.9 515.6 C1245.6 515.6 1247.6 515.7 1249.0 515.8 C1250.3 515.8 1251.7 515.8 1253.0 515.9 C1254.3 515.9 1255.7 515.9 1257.0 516.0 C1258.3 516.0 1259.7 516.0 1261.0 516.1 C1262.3 516.1 1263.7 516.1 1265.0 516.2 C1266.3 516.2 1268.0 516.2 1269.0 516.3 C1270.0 516.3 1270.7 516.3 1271.0 516.3" stroke="#50ffaf"/>
<path d="M906.3 44.0 C906.4 44.8 906.7 47.5 906.8 49.0 C907.0 50.5 907.1 51.6 907.2 53.0 C907.4 54.3 907.5 55.6 907.7 56.9 C907.8 58.3 907.9 59.6 908.1 60.9 C908.2 62.3 908.4 63.6 908.5 64.9 C908.6 66.2 908.8 67.6 908.9 68.9 C909.1 70.2 909.2 71.6 909.3 72.9 C909.5 74.2 909.6 75.5 909.7 76.9 C909.9 78.2 910.0 79.8 910.1 80.9 C910.2 81.9 910.3 82.7 910.4 83.1" stroke="#dfff20"/>
<path d="M913.2 115.5 C913.3 116.2 913.5 118.4 913.7 119.7 C913.8 121.1 914.0 122.4 914.2 123.7 C914.3 125.0 914.5 126.4 914.7 127.7 C914.8 129.0 915.0 130.3 915.2 131.7 C915.4 133.0 915.5 134.3 915.7 135.6 C915.9 137.0 916.0 138.3 916.2 139.6 C916.4 140.9 916.6 142.3 916.7 143.6 C916.9 144.9 917.1 146.2 917.2 147.6 C917.4 148.9 917.6 150.2 917.8 151.5 C917.9 152.9 918.1 154.2 918.3 155.5 C918.4 156.8 918.6 158.2 918.8 159.5 C919.0 160.8 919.1 162.1 919.3 163.4 C919.5 164.8 919.6 166.1 919.8 167.4 C920.0 168.7 920.2 170.1 920.3 171.4 C920.5 172.7 920.7 174.0 920.8 175.4 C921.0 176.7 921.2 178.0 921.4 179.3 C921.5 180.7 921.7 182.0 921.9 183.3 C922.1 184.6 922.3 185.9 922.5 187.3 C922.7 188.6 923.0 189.9 923.2 191.2 C923.5 192.5 923.7 193.8 924.0 195.1 C924.3 196.4 924.5 197.7 924.8 199.0 C925.1 200.4 925.4 201.7 925.7 203.0 C925.9 204.3 926.2 205.6 926.5 206.9 C926.8 208.2 927.1 209.5 927.3 210.8 C927.6 212.1 927.9 213.4 928.2 214.7 C928.5 216.0 928.7 217.3 929.0 218.6 C929.3 219.9 929.6 221.2 929.9 222.6 C930.1 223.9 930.4 225.2 930.7 226.5 C931.0 227.8 931.3 229.1 931.5 230.4 C931.8 231.7 932.1 233.0 932.4 234.3 C932.7 235.6 933.0 236.9 933.3 238.2 C933.6 239.5 933.9 240.8 934.2 242.1 C934.5 243.4 934.9 244.7 935.2 246.0 C935.5 247.3 935.9 248.6 936.2 249.9 C936.6 251.1 936.9 252.4 937.3 253.7 C937.6 255.0 937.9 256.3 938.3 257.6 C938.6 258.9 939.0 260.2 939.3 261.5 C939.7 262.7 940.0 264.0 940.4 265.3 C940.8 266.6 941.1 267.9 941.5 269.2 C941.9 270.4 942.3 271.7 942.7 273.0 C943.1 274.3 943.5 275.6 943.8 276.8 C944.2 278.1 944.6 279.4 945.0 280.7 C945.4 281.9 945.8 283.2 946.2 284.5 C946.6 285.8 947.0 287.0 947.4 288.3 C947.8 289.6 948.2 290.9 948.6 292.1 C948.9 293.4 949.3 294.7 949.7 296.0 C950.1 297.3 950.6 298.7 950.9 299.8 C951.3 300.9 951.7 302.2 951.8 302.7" stroke="#dfff20"/>
<path d="M960.2 326.7 C960.5 327.4 961.5 329.5 962.1 330.8 C962.7 332.1 963.4 333.2 964.0 334.3 C964.6 335.5 965.3 336.7 965.9 337.8 C966.6 339.0 967.2 340.2 967.9 341.4 C968.5 342.5 969.1 343.7 969.7 344.9 C970.4 346.1 971.0 347.3 971.6 348.4 C972.2 349.6 972.8 350.8 973.4 352.0 C974.0 353.2 974.6 354.4 975.2 355.6 C975.8 356.8 976.4 358.0 977.0 359.2 C977.7 360.3 978.3 361.5 979.0 362.7 C979.6 363.8 980.3 364.9 981.0 366.1 C981.7 367.2 982.5 368.3 983.2 369.4 C984.0 370.5 984.8 371.6 985.5 372.7 C986.3 373.8 987.1 374.9 987.8 376.0 C988.6 377.0 989.4 378.1 990.2 379.2 C991.0 380.3 991.8 381.3 992.6 382.4 C993.4 383.4 994.3 384.5 995.1 385.5 C996.0 386.5 996.8 387.5 997.7 388.6 C998.6 389.6 999.4 390.6 1000.3 391.6 C1001.2 392.6 1002.1 393.6 1003.0 394.6 C1003.8 395.6 1004.7 396.6 1005.7 397.6 C1006.6 398.5 1007.5 399.5 1008.4 400.5 C1009.3 401.4 1010.3 402.4 1011.2 403.3 C1012.2 404.3 1013.1 405.2 1014.1 406.1 C1015.0 407.1 1016.0 408.0 1016.9 409.0 C1017.9 409.9 1018.8 410.8 1019.8 411.7 C1020.8 412.6 1021.8 413.5 1022.9 414.3 C1023.9 415.2 1024.9 416.0 1025.9 416.9 C1027.0 417.7 1028.0 418.5 1029.1 419.4 C1030.1 420.2 1031.2 421.0 1032.2 421.8 C1033.3 422.7 1034.3 423.5 1035.4 424.3 C1036.4 425.1 1037.5 425.9 1038.5 426.7 C1039.6 427.5 1040.7 428.3 1041.8 429.1 C1042.9 429.9 1044.0 430.6 1045.1 431.4 C1046.2 432.2 1047.3 432.9 1048.4 433.7 C1049.5 434.4 1050.6 435.2 1051.7 435.9 C1052.8 436.6 1053.9 437.4 1055.0 438.1 C1056.1 438.9 1057.2 439.6 1058.3 440.4 C1059.4 441.1 1060.6 441.9 1061.7 442.6 C1062.7 443.3 1064.3 444.2 1064.8 444.6" stroke="#dfff20"/>
<path d="M1090.0 458.8 C1090.6 459.1 1092.7 460.0 1094.0 460.5 C1095.3 461.0 1096.5 461.4 1097.7 461.9 C1099.0 462.3 1100.3 462.7 1101.5 463.2 C1102.8 463.6 1104.1 464.0 1105.3 464.4 C1106.6 464.9 1107.9 465.3 1109.1 465.7 C1110.4 466.2 1111.7 466.6 1112.9 467.0 C1114.2 467.4 1115.5 467.8 1116.7 468.3 C1118.0 468.7 1119.3 469.1 1120.5 469.5 C1121.8 469.8 1123.1 470.2 1124.4 470.6 C1125.7 470.9 1127.0 471.3 1128.3 471.6 C1129.5 472.0 1130.8 472.3 1132.1 472.7 C1133.4 473.0 1134.7 473.4 1136.0 473.7 C1137.3 474.1 1138.6 474.4 1139.9 474.7 C1141.2 475.1 1142.4 475.4 1143.7 475.8 C1145.0 476.1 1146.3 476.5 1147.6 476.8 C1148.9 477.2 1150.2 477.5 1151.5 477.8 C1152.8 478.2 1154.1 478.5 1155.3 478.9 C1156.6 479.2 1157.9 479.6 1159.2 479.9 C1160.5 480.3 1161.8 480.6 1163.1 481.0 C1164.4 481.3 1165.7 481.6 1167.0 482.0 C1168.2 482.3 1169.5 482.7 1170.8 483.0 C1172.1 483.4 1173.4 483.7 1174.7 484.1 C1176.0 484.4 1177.3 484.8 1178.6 485.1 C1179.8 485.5 1181.1 485.8 1182.4 486.2 C1183.7 486.5 1185.0 486.9 1186.3 487.2 C1187.6 487.6 1188.9 487.9 1190.1 488.3 C1191.4 488.6 1192.7 489.0 1194.0 489.3 C1195.3 489.6 1196.6 489.9 1197.9 490.2 C1199.2 490.5 1200.5 490.8 1201.8 491.1 C1203.1 491.4 1204.4 491.7 1205.7 492.0 C1207.0 492.3 1208.3 492.6 1209.6 492.8 C1210.9 493.1 1212.3 493.4 1213.6 493.7 C1214.9 494.0 1216.2 494.3 1217.5 494.5 C1218.8 494.8 1220.1 495.1 1221.4 495.4 C1222.7 495.6 1224.8 496.0 1225.5 496.2" stroke="#dfff20"/>
<path d="M1253.5 500.4 C1254.3 500.5 1256.6 500.7 1258.0 500.8 C1259.4 501.0 1260.7 501.0 1262.0 501.1 C1263.3 501.2 1264.5 501.3 1266.0 501.4 C1267.5 501.5 1270.2 501.6 1271.0 501.7" stroke="#dfff20"/>
<path d="M975.5 120.0 C975.5 120.8 975.7 123.5 975.7 125.0 C975.8 126.5 975.9 127.7 975.9 129.0 C976.0 130.3 976.1 131.7 976.1 133.0 C976.2 134.3 976.3 135.7 976.4 137.0 C976.4 138.3 976.5 139.6 976.6 141.0 C976.8 142.3 976.9 143.6 977.1 144.9 C977.2 146.3 977.5 147.6 977.7 148.9 C977.9 150.2 978.2 151.5 978.4 152.8 C978.7 154.1 978.9 155.4 979.2 156.7 C979.4 158.1 979.7 159.4 980.0 160.7 C980.2 162.0 980.5 163.3 980.7 164.6 C981.0 165.9 981.3 167.2 981.5 168.5 C981.8 169.8 982.0 171.1 982.3 172.4 C982.6 173.7 982.8 175.1 983.1 176.4 C983.3 177.7 983.6 179.0 983.9 180.3 C984.1 181.6 984.4 183.0 984.6 184.2 C984.9 185.4 985.2 187.0 985.3 187.5" stroke="#ff8f00"/>
<path d="M990.8 214.4 C990.9 215.1 991.4 217.2 991.7 218.5 C992.0 219.8 992.3 221.1 992.6 222.4 C992.9 223.7 993.2 225.0 993.5 226.3 C993.8 227.6 994.1 228.9 994.5 230.2 C994.8 231.5 995.1 232.8 995.4 234.1 C995.7 235.4 996.0 236.7 996.3 238.0 C996.6 239.3 997.0 240.6 997.3 241.9 C997.6 243.2 997.9 244.5 998.2 245.7 C998.6 247.0 998.9 248.3 999.2 249.6 C999.5 250.9 999.8 252.2 1000.1 253.5 C1000.5 254.8 1000.8 256.1 1001.1 257.4 C1001.4 258.7 1001.8 260.0 1002.1 261.3 C1002.5 262.6 1002.8 263.8 1003.2 265.1 C1003.6 266.4 1004.0 267.7 1004.4 268.9 C1004.9 270.2 1005.3 271.4 1005.8 272.7 C1006.3 273.9 1006.7 275.2 1007.2 276.4 C1007.7 277.7 1008.2 278.9 1008.7 280.1 C1009.2 281.4 1009.7 282.6 1010.2 283.8 C1010.7 285.1 1011.2 286.3 1011.7 287.6 C1012.2 288.8 1012.7 290.0 1013.2 291.3 C1013.7 292.5 1014.2 293.7 1014.8 294.9 C1015.3 296.2 1015.8 297.4 1016.3 298.6 C1016.9 299.8 1017.4 301.1 1018.0 302.3 C1018.5 303.5 1019.1 304.7 1019.6 305.9 C1020.2 307.1 1020.7 308.4 1021.3 309.6 C1021.8 310.8 1022.4 312.0 1022.9 313.2 C1023.5 314.4 1024.1 315.6 1024.7 316.8 C1025.2 318.0 1025.8 319.2 1026.4 320.4 C1027.0 321.6 1027.6 322.8 1028.2 324.0 C1028.8 325.2 1029.4 326.4 1030.0 327.6 C1030.6 328.8 1031.2 329.9 1031.8 331.1 C1032.4 332.3 1033.1 333.5 1033.7 334.6 C1034.4 335.8 1035.1 336.9 1035.7 338.1 C1036.4 339.2 1037.1 340.4 1037.8 341.5 C1038.5 342.6 1039.3 343.8 1040.0 344.9 C1040.7 346.0 1041.4 347.1 1042.1 348.3 C1042.8 349.4 1043.6 350.5 1044.3 351.6 C1045.0 352.7 1045.7 353.9 1046.5 355.0 C1047.2 356.1 1047.9 357.2 1048.7 358.3 C1049.4 359.4 1050.2 360.5 1050.9 361.6 C1051.6 362.8 1052.4 363.9 1053.1 365.0 C1053.9 366.1 1054.6 367.2 1055.3 368.3 C1056.1 369.4 1056.8 370.5 1057.6 371.6 C1058.4 372.7 1059.3 373.9 1060.0 374.8 C1060.6 375.6 1061.3 376.4 1061.6 376.7" stroke="#ff8f00"/>
<path d="M1082.2 394.9 C1082.9 395.4 1084.9 397.1 1086.0 398.0 C1087.2 398.9 1088.1 399.7 1089.1 400.5 C1090.1 401.4 1091.2 402.2 1092.2 403.1 C1093.2 403.9 1094.3 404.8 1095.3 405.6 C1096.4 406.4 1097.4 407.3 1098.4 408.1 C1099.5 409.0 1100.5 409.8 1101.5 410.6 C1102.6 411.5 1103.6 412.3 1104.7 413.1 C1105.7 413.9 1106.8 414.7 1107.9 415.4 C1109.0 416.2 1110.1 416.9 1111.2 417.6 C1112.4 418.4 1113.5 419.0 1114.7 419.7 C1115.8 420.4 1116.9 421.1 1118.1 421.8 C1119.3 422.4 1120.4 423.1 1121.6 423.7 C1122.8 424.3 1124.0 424.9 1125.1 425.5 C1126.3 426.2 1127.5 426.8 1128.7 427.4 C1129.9 428.0 1131.1 428.5 1132.3 429.1 C1133.5 429.7 1134.7 430.3 1135.9 430.9 C1137.1 431.5 1138.3 432.1 1139.4 432.7 C1140.6 433.3 1141.8 433.9 1143.0 434.5 C1144.2 435.1 1145.4 435.7 1146.6 436.3 C1147.8 436.9 1149.0 437.5 1150.2 438.1 C1151.4 438.7 1152.6 439.3 1153.8 439.9 C1155.0 440.5 1156.2 441.0 1157.4 441.6 C1158.6 442.2 1159.8 442.7 1161.0 443.3 C1162.2 443.8 1163.4 444.4 1164.7 444.9 C1165.9 445.4 1167.1 445.9 1168.4 446.4 C1169.6 446.9 1170.8 447.4 1172.1 447.9 C1173.3 448.4 1174.6 448.9 1175.8 449.4 C1177.0 449.9 1178.3 450.4 1179.5 450.9 C1180.7 451.4 1182.0 451.9 1183.2 452.5 C1184.4 453.0 1185.6 453.5 1186.9 454.0 C1188.1 454.6 1189.3 455.1 1190.5 455.6 C1191.7 456.2 1193.0 456.7 1194.2 457.2 C1195.4 457.8 1196.6 458.3 1197.9 458.8 C1199.1 459.4 1200.3 459.9 1201.6 460.4 C1202.8 460.9 1204.0 461.4 1205.2 461.9 C1206.5 462.4 1208.0 463.0 1209.0 463.4 C1209.9 463.8 1210.7 464.1 1211.1 464.2" stroke="#ff8f00"/>
<path d="M1237.3 472.3 C1238.0 472.4 1240.1 472.9 1241.5 473.2 C1242.8 473.5 1244.1 473.7 1245.4 474.0 C1246.7 474.2 1248.0 474.5 1249.3 474.7 C1250.7 474.9 1252.0 475.2 1253.3 475.4 C1254.6 475.6 1255.9 475.9 1257.2 476.1 C1258.5 476.3 1259.8 476.6 1261.2 476.8 C1262.5 477.1 1263.8 477.3 1265.1 477.5 C1266.4 477.8 1268.0 478.1 1269.0 478.2 C1270.0 478.4 1270.7 478.5 1271.0 478.6" stroke="#ff8f00"/>
<path d="M1057.5 120.0 C1057.7 120.8 1058.3 123.4 1058.6 124.9 C1058.9 126.3 1059.2 127.5 1059.5 128.8 C1059.8 130.1 1060.1 131.4 1060.4 132.7 C1060.7 134.0 1060.9 135.3 1061.2 136.6 C1061.5 137.9 1061.8 139.2 1062.1 140.5 C1062.4 141.8 1062.7 143.1 1063.0 144.4 C1063.3 145.7 1063.6 147.0 1063.9 148.3 C1064.2 149.6 1064.5 150.9 1064.8 152.2 C1065.1 153.5 1065.4 154.8 1065.7 156.1 C1066.0 157.4 1066.2 158.7 1066.5 160.0 C1066.8 161.3 1067.1 162.6 1067.4 163.9 C1067.7 165.2 1068.0 166.5 1068.3 167.8 C1068.6 169.1 1068.9 170.4 1069.2 171.7 C1069.5 173.0 1069.8 174.3 1070.1 175.6 C1070.4 176.9 1070.7 178.2 1071.0 179.5 C1071.3 180.8 1071.6 182.1 1071.9 183.4 C1072.2 184.7 1072.5 186.0 1072.8 187.3 C1073.1 188.6 1073.4 189.9 1073.7 191.2 C1074.0 192.5 1074.3 193.8 1074.7 195.1 C1075.0 196.4 1075.4 197.7 1075.7 199.0 C1076.1 200.2 1076.5 201.5 1076.8 202.8 C1077.2 204.1 1077.6 205.4 1077.9 206.7 C1078.3 207.9 1078.7 209.2 1079.0 210.5 C1079.4 211.8 1079.8 213.1 1080.2 214.4 C1080.5 215.6 1080.9 216.9 1081.3 218.2 C1081.6 219.5 1082.0 220.8 1082.4 222.0 C1082.7 223.3 1083.1 224.6 1083.5 225.9 C1083.8 227.2 1084.2 228.5 1084.6 229.7 C1084.9 231.0 1085.3 232.3 1085.7 233.6 C1086.0 234.9 1086.4 236.1 1086.8 237.4 C1087.2 238.7 1087.5 240.0 1087.9 241.3 C1088.3 242.6 1088.6 243.8 1089.0 245.1 C1089.4 246.4 1089.8 247.7 1090.2 249.0 C1090.5 250.2 1090.9 251.5 1091.3 252.8 C1091.7 254.1 1092.1 255.3 1092.5 256.6 C1093.0 257.9 1093.4 259.1 1093.8 260.4 C1094.2 261.7 1094.6 262.9 1095.0 264.2 C1095.4 265.5 1095.8 266.7 1096.2 268.0 C1096.7 269.3 1097.1 270.6 1097.5 271.8 C1097.9 273.1 1098.3 274.4 1098.7 275.6 C1099.1 276.9 1099.5 278.2 1100.0 279.4 C1100.4 280.7 1100.7 281.7 1101.3 283.2 C1101.8 284.7 1103.0 287.5 1103.3 288.3" stroke="#ff1000"/>
<path d="M1117.5 312.9 C1117.9 313.5 1118.8 315.3 1119.4 316.5 C1120.0 317.6 1120.6 318.8 1121.2 320.0 C1121.8 321.2 1122.4 322.4 1123.0 323.6 C1123.6 324.8 1124.2 326.0 1124.9 327.2 C1125.5 328.3 1126.1 329.5 1126.8 330.6 C1127.5 331.8 1128.2 332.9 1129.0 334.0 C1129.7 335.1 1130.5 336.2 1131.2 337.3 C1132.0 338.4 1132.7 339.5 1133.5 340.6 C1134.3 341.7 1135.0 342.8 1135.8 343.9 C1136.6 345.0 1137.3 346.0 1138.1 347.1 C1138.9 348.2 1139.7 349.2 1140.6 350.3 C1141.4 351.3 1142.2 352.4 1143.1 353.4 C1144.0 354.4 1144.8 355.4 1145.7 356.4 C1146.6 357.4 1147.5 358.4 1148.4 359.4 C1149.3 360.4 1150.2 361.4 1151.1 362.4 C1151.9 363.3 1152.8 364.3 1153.8 365.3 C1154.7 366.3 1155.6 367.2 1156.6 368.1 C1157.5 369.0 1158.5 369.9 1159.5 370.8 C1160.5 371.7 1161.6 372.5 1162.6 373.4 C1163.6 374.2 1164.7 375.0 1165.7 375.9 C1166.8 376.7 1167.8 377.5 1168.8 378.4 C1169.9 379.2 1170.9 380.0 1172.0 380.9 C1173.0 381.7 1174.1 382.5 1175.1 383.3 C1176.2 384.1 1177.3 384.9 1178.3 385.7 C1179.4 386.5 1180.5 387.3 1181.6 388.1 C1182.7 388.8 1183.8 389.6 1184.9 390.4 C1186.0 391.1 1187.0 391.9 1188.1 392.7 C1189.2 393.4 1190.3 394.2 1191.4 394.9 C1192.5 395.7 1193.6 396.5 1194.7 397.2 C1195.8 398.0 1196.9 398.7 1198.0 399.5 C1199.1 400.2 1200.2 401.0 1201.3 401.7 C1202.4 402.5 1203.5 403.2 1204.6 404.0 C1205.8 404.7 1206.9 405.4 1208.0 406.2 C1209.1 406.9 1210.2 407.7 1211.3 408.4 C1212.4 409.1 1213.5 409.9 1214.7 410.6 C1215.8 411.3 1216.9 412.0 1218.0 412.7 C1219.2 413.4 1220.3 414.1 1221.4 414.8 C1222.6 415.5 1223.7 416.2 1224.9 416.9 C1226.0 417.6 1226.9 418.2 1228.3 419.0 C1229.7 419.8 1232.5 421.3 1233.3 421.8" stroke="#ff1000"/>
<path d="M1253.6 431.5 C1254.3 431.8 1256.6 432.8 1258.0 433.3 C1259.3 433.9 1260.5 434.3 1261.7 434.8 C1262.9 435.3 1264.2 435.8 1265.4 436.3 C1266.7 436.8 1268.2 437.4 1269.1 437.8 C1270.1 438.1 1270.7 438.4 1271.0 438.5" stroke="#ff1000"/>
<path d="M1196.0 120.0 C1196.2 120.8 1196.9 123.4 1197.3 124.8 C1197.7 126.3 1198.0 127.4 1198.4 128.7 C1198.7 130.0 1199.1 131.3 1199.4 132.5 C1199.8 133.8 1200.2 135.1 1200.5 136.4 C1200.8 137.7 1201.2 139.0 1201.5 140.3 C1201.9 141.6 1202.2 142.8 1202.5 144.1 C1202.8 145.4 1203.1 146.7 1203.4 148.0 C1203.7 149.3 1204.0 150.6 1204.3 151.9 C1204.6 153.2 1204.8 154.6 1205.1 155.9 C1205.4 157.2 1205.7 158.5 1205.9 159.8 C1206.2 161.1 1206.5 162.4 1206.8 163.7 C1207.0 165.0 1207.3 166.3 1207.6 167.6 C1207.9 168.9 1208.1 170.2 1208.4 171.5 C1208.7 172.8 1209.0 174.1 1209.3 175.4 C1209.6 176.7 1209.9 178.0 1210.3 179.3 C1210.6 180.6 1211.0 181.9 1211.4 183.1 C1211.8 184.4 1212.2 185.7 1212.6 186.9 C1213.0 188.2 1213.5 189.4 1213.9 190.7 C1214.3 192.0 1214.8 193.2 1215.2 194.5 C1215.7 195.7 1216.1 197.0 1216.6 198.3 C1217.0 199.5 1217.5 200.8 1217.9 202.0 C1218.4 203.3 1218.9 204.5 1219.4 205.8 C1219.8 207.0 1220.3 208.2 1220.8 209.5 C1221.3 210.7 1221.8 212.0 1222.2 213.2 C1222.7 214.5 1223.2 215.7 1223.7 216.9 C1224.2 218.2 1224.7 219.4 1225.1 220.7 C1225.6 221.9 1226.1 223.2 1226.6 224.4 C1227.1 225.6 1227.6 226.9 1228.1 228.1 C1228.6 229.3 1229.1 230.6 1229.6 231.8 C1230.1 233.0 1230.6 234.3 1231.1 235.5 C1231.7 236.7 1232.2 238.0 1232.7 239.2 C1233.2 240.4 1233.7 241.7 1234.2 242.9 C1234.7 244.1 1235.2 245.4 1235.8 246.6 C1236.3 247.8 1236.8 249.1 1237.3 250.3 C1237.8 251.5 1238.3 252.8 1238.8 254.0 C1239.3 255.2 1239.9 256.4 1240.4 257.7 C1240.9 258.9 1241.4 260.1 1241.9 261.4 C1242.4 262.6 1242.9 263.8 1243.5 265.1 C1244.0 266.3 1244.5 267.5 1245.0 268.7 C1245.5 270.0 1246.2 271.4 1246.6 272.4 C1247.1 273.4 1247.6 274.5 1247.8 274.9" stroke="#800000"/>
<path d="M1261.8 299.2 C1262.2 299.8 1263.4 301.5 1264.1 302.7 C1264.9 303.8 1265.6 304.9 1266.4 306.0 C1267.2 307.0 1267.9 308.1 1268.7 309.2 C1269.5 310.3 1270.6 312.0 1271.0 312.5" stroke="#800000"/>
<text x="0" y="4.9" transform="translate(774.3 155.0) rotate(88.0) scale(1.12 1)" class="cl">90</text>
<text x="0" y="4.9" transform="translate(792.5 380.0) rotate(80.0) scale(1.12 1)" class="cl">90</text>
<text x="0" y="4.9" transform="translate(904.2 522.0) rotate(20.0) scale(1.12 1)" class="cl">90</text>
<text x="0" y="4.9" transform="translate(1070.6 544.0) rotate(5.0) scale(1.12 1)" class="cl">90</text>
<text x="0" y="4.9" transform="translate(786.4 115.5) rotate(88.0) scale(1.12 1)" class="cl">120</text>
<text x="0" y="4.9" transform="translate(806.6 337.5) rotate(80.0) scale(1.12 1)" class="cl">120</text>
<text x="0" y="4.9" transform="translate(908.9 502.0) rotate(25.0) scale(1.12 1)" class="cl">120</text>
<text x="0" y="4.9" transform="translate(1072.5 533.5) rotate(5.0) scale(1.12 1)" class="cl">120</text>
<text x="0" y="4.9" transform="translate(799.9 85.0) rotate(88.0) scale(1.12 1)" class="cl">150</text>
<text x="0" y="4.9" transform="translate(821.4 308.0) rotate(80.0) scale(1.12 1)" class="cl">150</text>
<text x="0" y="4.9" transform="translate(914.8 483.5) rotate(25.0) scale(1.12 1)" class="cl">150</text>
<text x="0" y="4.9" transform="translate(1079.1 524.5) rotate(7.0) scale(1.12 1)" class="cl">150</text>
<text x="0" y="4.9" transform="translate(829.0 40.0) rotate(85.0) scale(1.12 1)" class="cl">200</text>
<text x="0" y="4.9" transform="translate(847.0 263.0) rotate(80.0) scale(1.12 1)" class="cl">200</text>
<text x="0" y="4.9" transform="translate(931.0 452.8) rotate(30.0) scale(1.12 1)" class="cl">200</text>
<text x="0" y="4.9" transform="translate(1090.4 512.0) rotate(10.0) scale(1.12 1)" class="cl">200</text>
<text x="0" y="4.9" transform="translate(870.0 161.0) rotate(85.0) scale(1.12 1)" class="cl">250</text>
<text x="0" y="4.9" transform="translate(923.5 373.4) rotate(62.0) scale(1.12 1)" class="cl">250</text>
<text x="0" y="4.9" transform="translate(1067.1 483.5) rotate(10.0) scale(1.12 1)" class="cl">250</text>
<text x="0" y="4.9" transform="translate(1229.8 514.0) rotate(4.0) scale(1.12 1)" class="cl">250</text>
<text x="0" y="4.9" transform="translate(909.0 100.6) rotate(85.0) scale(1.12 1)" class="cl">300</text>
<text x="0" y="4.9" transform="translate(951.8 316.8) rotate(62.0) scale(1.12 1)" class="cl">300</text>
<text x="0" y="4.9" transform="translate(1077.6 455.2) rotate(18.0) scale(1.12 1)" class="cl">300</text>
<text x="0" y="4.9" transform="translate(1238.4 499.0) rotate(5.0) scale(1.12 1)" class="cl">300</text>
<text x="0" y="4.9" transform="translate(984.2 201.5) rotate(78.0) scale(1.12 1)" class="cl">350</text>
<text x="0" y="4.9" transform="translate(1069.3 388.4) rotate(38.0) scale(1.12 1)" class="cl">350</text>
<text x="0" y="4.9" transform="translate(1223.3 470.5) rotate(12.0) scale(1.12 1)" class="cl">350</text>
<text x="0" y="4.9" transform="translate(1108.3 302.0) rotate(62.0) scale(1.12 1)" class="cl">400</text>
<text x="0" y="4.9" transform="translate(1242.8 428.5) rotate(22.0) scale(1.12 1)" class="cl">400</text>
<text x="0" y="4.9" transform="translate(1252.5 288.0) rotate(58.0) scale(1.12 1)" class="cl">450</text>
<text x="0" y="4.9" transform="translate(1245.0 540.0) rotate(4.0) scale(1.12 1)" class="cl">150</text>
<text x="0" y="4.9" transform="translate(1240.0 543.5) rotate(4.0) scale(1.12 1)" class="cl">120</text>
<text x="0" y="4.9" transform="translate(1237.0 551.0) rotate(4.0) scale(1.12 1)" class="cl">90</text>
</g>
<rect x="754.2" y="46.4" width="514.9" height="512.2" class="axbox"/>
<text x="754.2" y="584" class="tl" text-anchor="middle">0</text>
<text x="748.7" y="567.2" class="tl" text-anchor="end">0</text>
<text x="827.8" y="584" class="tl" text-anchor="middle">2</text>
<text x="748.7" y="494.0" class="tl" text-anchor="end">2</text>
<text x="901.3" y="584" class="tl" text-anchor="middle">4</text>
<text x="748.7" y="420.9" class="tl" text-anchor="end">4</text>
<text x="974.9" y="584" class="tl" text-anchor="middle">6</text>
<text x="748.7" y="347.7" class="tl" text-anchor="end">6</text>
<text x="1048.4" y="584" class="tl" text-anchor="middle">8</text>
<text x="748.7" y="274.5" class="tl" text-anchor="end">8</text>
<text x="1122.0" y="584" class="tl" text-anchor="middle">10</text>
<text x="748.7" y="201.3" class="tl" text-anchor="end">10</text>
<text x="1195.5" y="584" class="tl" text-anchor="middle">12</text>
<text x="748.7" y="128.2" class="tl" text-anchor="end">12</text>
<text x="1269.1" y="584" class="tl" text-anchor="middle">14</text>
<text x="748.7" y="55.0" class="tl" text-anchor="end">14</text>
<text x="195.3" y="616.8" class="al" textLength="380.5" lengthAdjust="spacingAndGlyphs">Magnetic Field Strength [T]</text>
<text transform="translate(82.3 507.6) rotate(-90)" x="0" y="0" class="al" textLength="409" lengthAdjust="spacingAndGlyphs">Magnetic Field Thickness [m]</text>
<text x="820.8" y="616.8" class="al" textLength="380.5" lengthAdjust="spacingAndGlyphs">Magnetic Field Strength [T]</text>
<text transform="translate(707.8 507.6) rotate(-90)" x="0" y="0" class="al" textLength="409" lengthAdjust="spacingAndGlyphs">Magnetic Field Thickness [m]</text>
<rect x="244.3" y="46.5" width="400" height="68.5" fill="#fff" stroke="#222" stroke-width="1.1"/>
<ellipse cx="275.85" cy="80.1" rx="22.85" ry="24.3" fill="none" stroke="#00008f" stroke-width="4.4"/>
<ellipse cx="275.85" cy="80.1" rx="15.4" ry="15.5" fill="none" stroke="#00bfff" stroke-width="5.4"/>
<ellipse cx="275.85" cy="80.1" rx="7.3" ry="7.9" fill="none" stroke="#800000" stroke-width="5"/>
<text x="303.5" y="73.9" class="lg" textLength="333" lengthAdjust="spacingAndGlyphs">Annual Dose Equivalent [mSv]</text>
<text x="337.8" y="105.5" class="lg" textLength="147" lengthAdjust="spacingAndGlyphs">with 5.1 g/cm</text>
<text x="484.2" y="94.7" class="lgs">2</text>
<text x="499.5" y="105.5" class="lg" textLength="131" lengthAdjust="spacingAndGlyphs">Al Shielding</text>
<rect x="940.5" y="46.3" width="328.7" height="96.9" fill="#fff" stroke="#222" stroke-width="1.1"/>
<ellipse cx="971.55" cy="94.45" rx="22.9" ry="36" fill="none" stroke="#00008f" stroke-width="4.2"/>
<ellipse cx="971.55" cy="94.45" rx="15.6" ry="23.2" fill="none" stroke="#50ffaf" stroke-width="4.6"/>
<ellipse cx="971.55" cy="94.45" rx="7.85" ry="11.9" fill="none" stroke="#800000" stroke-width="4.6"/>
<text x="999.8" y="72.8" class="lg" textLength="261" lengthAdjust="spacingAndGlyphs">Mission Duration [days]</text>
<text x="1103.5" y="101.1" class="lg" textLength="157.5" lengthAdjust="spacingAndGlyphs">150 mSv Limit</text>
<text x="1019.5" y="133.4" class="lg" textLength="96" lengthAdjust="spacingAndGlyphs">5.1 g/cm</text>
<text x="1116.2" y="122.7" class="lgs">2</text>
<text x="1131.5" y="133.4" class="lg" textLength="130.5" lengthAdjust="spacingAndGlyphs">Al Shielding</text>
<rect x="394" y="31" width="8" height="2" fill="#222"/>
<rect x="1019" y="31" width="8" height="2" fill="#222"/>
<text x="88" y="694.6" class="capb" textLength="147" lengthAdjust="spacingAndGlyphs">Figure 8.20.</text>
<text x="252" y="694.6" class="cap" textLength="510" lengthAdjust="spacingAndGlyphs">Open-Ended Cylinder Model with 5.1 g/cm</text>
<text x="762.5" y="681" class="caps">2</text>
<text x="779.5" y="694.6" class="cap" textLength="175" lengthAdjust="spacingAndGlyphs">Al Shielding (r</text>
<text x="955.5" y="699" class="caps">i</text>
<text x="967" y="694.6" class="cap" textLength="71" lengthAdjust="spacingAndGlyphs">= 4m)</text>
<text x="1053" y="694.6" class="cap" textLength="185" lengthAdjust="spacingAndGlyphs">a) Annual Dose</text>
<text x="300.5" y="727.3" class="cap" textLength="725" lengthAdjust="spacingAndGlyphs">Equivalent, b) Maximum Mission Duration to 150 mSv Limit</text>
</svg></body></html>
